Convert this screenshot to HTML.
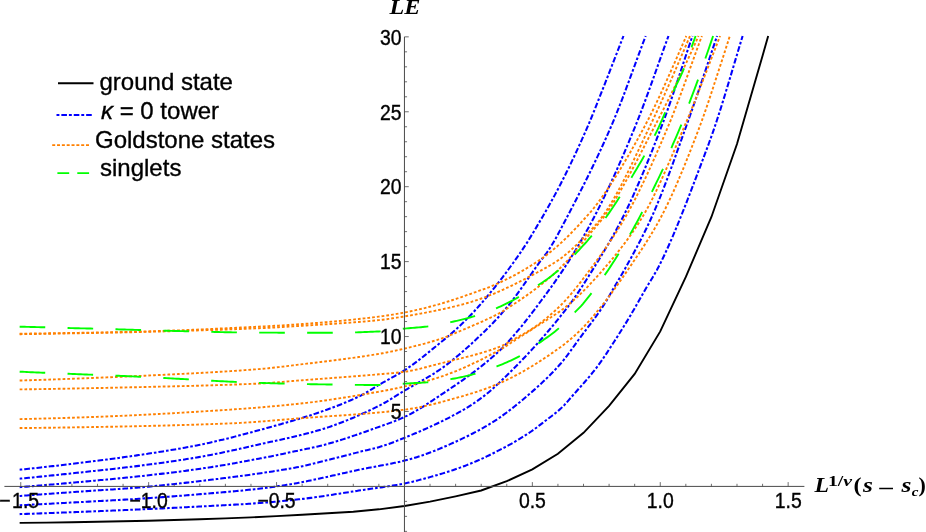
<!DOCTYPE html>
<html><head><meta charset="utf-8"><style>
html,body{margin:0;padding:0;background:#fff;}
svg{display:block;}
</style></head><body>
<svg width="926" height="532" viewBox="0 0 926 532">
<rect width="926" height="532" fill="#fff"/>
<g><path d="M19.65,522.91 L20.75,522.90 L46.33,522.60 L71.91,522.23 L97.49,521.80 L123.07,521.28 L148.65,520.69 L174.23,519.99 L199.81,519.21 L225.39,518.36 L250.97,517.39 L276.55,516.16 L302.13,514.68 L327.71,513.30 L353.29,511.71 L378.87,509.32 L404.45,506.01 L430.03,501.64 L455.61,496.34 L481.19,490.47 L506.77,481.17 L532.35,469.43 L557.93,453.78 L583.51,432.79 L609.09,405.90 L634.67,373.90 L660.25,331.41 L685.83,276.93 L711.41,216.97 L736.99,144.03 L762.57,55.76 L768.19,36.00" fill="none" stroke="#000" stroke-width="1.9"/><path d="M19.65,469.71 L20.75,469.59 L22.75,469.39 L24.75,469.18 L26.75,468.97 L28.75,468.76 L30.75,468.55 L32.75,468.33 L34.75,468.12 L36.75,467.90 L38.75,467.68 L40.75,467.47 L42.75,467.24 L44.75,467.02 L46.75,466.80 L48.75,466.57 L50.75,466.35 L52.75,466.12 L54.75,465.89 L56.75,465.66 L58.75,465.43 L60.75,465.20 L62.75,464.97 L64.75,464.73 L66.75,464.49 L68.75,464.26 L70.75,464.02 L72.75,463.78 L74.75,463.54 L76.75,463.30 L78.75,463.05 L80.75,462.81 L82.75,462.56 L84.75,462.32 L86.75,462.07 L88.75,461.82 L90.75,461.57 L92.75,461.32 L94.75,461.07 L96.75,460.81 L98.75,460.56 L100.75,460.30 L102.75,460.05 L104.75,459.79 L106.75,459.53 L108.75,459.26 L110.75,459.00 L112.75,458.73 L114.75,458.47 L116.75,458.20 L118.75,457.92 L120.75,457.65 L122.75,457.37 L124.75,457.10 L126.75,456.82 L128.75,456.53 L130.75,456.25 L132.75,455.96 L134.75,455.67 L136.75,455.38 L138.75,455.09 L140.75,454.79 L142.75,454.49 L144.75,454.19 L146.75,453.89 L148.75,453.58 L150.75,453.28 L152.75,452.97 L154.75,452.66 L156.75,452.35 L158.75,452.04 L160.75,451.72 L162.75,451.40 L164.75,451.08 L166.75,450.75 L168.75,450.42 L170.75,450.09 L172.75,449.76 L174.75,449.42 L176.75,449.08 L178.75,448.73 L180.75,448.38 L182.75,448.03 L184.75,447.67 L186.75,447.31 L188.75,446.95 L190.75,446.58 L192.75,446.20 L194.75,445.82 L196.75,445.44 L198.75,445.05 L200.75,444.65 L202.75,444.24 L204.75,443.82 L206.75,443.38 L208.75,442.94 L210.75,442.48 L212.75,442.01 L214.75,441.54 L216.75,441.07 L218.75,440.59 L220.75,440.11 L222.75,439.63 L224.75,439.14 L226.75,438.65 L228.75,438.15 L230.75,437.65 L232.75,437.14 L234.75,436.63 L236.75,436.12 L238.75,435.60 L240.75,435.08 L242.75,434.56 L244.75,434.03 L246.75,433.50 L248.75,432.96 L250.75,432.43 L252.75,431.88 L254.75,431.34 L256.75,430.79 L258.75,430.24 L260.75,429.69 L262.75,429.14 L264.75,428.59 L266.75,428.04 L268.75,427.49 L270.75,426.94 L272.75,426.38 L274.75,425.83 L276.75,425.28 L278.75,424.72 L280.75,424.16 L282.75,423.59 L284.75,423.03 L286.75,422.46 L288.75,421.88 L290.75,421.30 L292.75,420.72 L294.75,420.13 L296.75,419.54 L298.75,418.94 L300.75,418.33 L302.75,417.72 L304.75,417.10 L306.75,416.47 L308.75,415.84 L310.75,415.19 L312.75,414.54 L314.75,413.88 L316.75,413.21 L318.75,412.53 L320.75,411.84 L322.75,411.14 L324.75,410.44 L326.75,409.73 L328.75,409.01 L330.75,408.27 L332.75,407.53 L334.75,406.78 L336.75,406.01 L338.75,405.24 L340.75,404.44 L342.75,403.64 L344.75,402.81 L346.75,401.98 L348.75,401.12 L350.75,400.25 L352.75,399.35 L354.75,398.44 L356.75,397.51 L358.75,396.56 L360.75,395.58 L362.75,394.53 L364.75,393.42 L366.75,392.26 L368.75,391.06 L370.75,389.83 L372.75,388.59 L374.75,387.35 L376.75,386.13 L378.75,384.93 L380.75,383.77 L382.75,382.64 L384.75,381.53 L386.75,380.44 L388.75,379.36 L390.75,378.28 L392.75,377.19 L394.75,376.09 L396.75,374.97 L398.75,373.82 L400.75,372.64 L402.75,371.41 L404.75,370.14 L406.75,368.82 L408.75,367.45 L410.75,366.05 L412.75,364.61 L414.75,363.14 L416.75,361.64 L418.75,360.11 L420.75,358.56 L422.75,356.98 L424.75,355.39 L426.75,353.79 L428.75,352.17 L430.75,350.54 L432.75,348.91 L434.75,347.28 L436.75,345.65 L438.75,344.02 L440.75,342.39 L442.75,340.77 L444.75,339.13 L446.75,337.48 L448.75,335.80 L450.75,334.10 L452.75,332.35 L454.75,330.57 L456.75,328.73 L458.75,326.86 L460.75,324.96 L462.75,323.03 L464.75,321.06 L466.75,319.06 L468.75,317.03 L470.75,314.95 L472.75,312.84 L474.75,310.70 L476.75,308.51 L478.75,306.28 L480.75,304.02 L482.75,301.72 L484.75,299.39 L486.75,297.03 L488.75,294.64 L490.75,292.22 L492.75,289.76 L494.75,287.28 L496.75,284.76 L498.75,282.21 L500.75,279.63 L502.75,277.02 L504.75,274.38 L506.75,271.70 L508.75,269.00 L510.75,266.26 L512.75,263.49 L514.75,260.70 L516.75,257.87 L518.75,255.01 L520.75,252.12 L522.75,249.19 L524.75,246.18 L526.75,243.08 L528.75,239.90 L530.75,236.66 L532.75,233.35 L534.75,230.01 L536.75,226.63 L538.75,223.23 L540.75,219.82 L542.75,216.40 L544.75,212.95 L546.75,209.47 L548.75,205.95 L550.75,202.39 L552.75,198.78 L554.75,195.12 L556.75,191.40 L558.75,187.61 L560.75,183.74 L562.75,179.83 L564.75,175.85 L566.75,171.83 L568.75,167.75 L570.75,163.61 L572.75,159.43 L574.75,155.19 L576.75,150.90 L578.75,146.55 L580.75,142.15 L582.75,137.70 L584.75,133.20 L586.75,128.64 L588.75,124.02 L590.75,119.25 L592.75,114.35 L594.75,109.35 L596.75,104.30 L598.75,99.25 L600.75,94.21 L602.75,89.17 L604.75,84.09 L606.75,78.99 L608.75,73.87 L610.75,68.74 L612.75,63.59 L614.75,58.44 L616.75,53.29 L618.75,48.13 L620.75,42.99 L622.75,37.85 L623.47,36.00" fill="none" stroke="#0000ff" stroke-width="2.05" stroke-dasharray="2.6 2.0 5.7 2.0"/><path d="M19.65,478.70 L20.75,478.60 L22.75,478.40 L24.75,478.20 L26.75,478.01 L28.75,477.81 L30.75,477.61 L32.75,477.41 L34.75,477.21 L36.75,477.01 L38.75,476.81 L40.75,476.61 L42.75,476.40 L44.75,476.20 L46.75,475.99 L48.75,475.79 L50.75,475.58 L52.75,475.38 L54.75,475.17 L56.75,474.96 L58.75,474.75 L60.75,474.55 L62.75,474.34 L64.75,474.13 L66.75,473.91 L68.75,473.70 L70.75,473.49 L72.75,473.28 L74.75,473.06 L76.75,472.85 L78.75,472.63 L80.75,472.42 L82.75,472.20 L84.75,471.99 L86.75,471.77 L88.75,471.56 L90.75,471.34 L92.75,471.13 L94.75,470.91 L96.75,470.70 L98.75,470.48 L100.75,470.27 L102.75,470.05 L104.75,469.83 L106.75,469.61 L108.75,469.39 L110.75,469.17 L112.75,468.94 L114.75,468.72 L116.75,468.49 L118.75,468.26 L120.75,468.03 L122.75,467.80 L124.75,467.57 L126.75,467.33 L128.75,467.09 L130.75,466.85 L132.75,466.61 L134.75,466.36 L136.75,466.11 L138.75,465.86 L140.75,465.60 L142.75,465.35 L144.75,465.09 L146.75,464.83 L148.75,464.57 L150.75,464.30 L152.75,464.04 L154.75,463.77 L156.75,463.50 L158.75,463.22 L160.75,462.95 L162.75,462.67 L164.75,462.39 L166.75,462.11 L168.75,461.82 L170.75,461.53 L172.75,461.24 L174.75,460.94 L176.75,460.65 L178.75,460.34 L180.75,460.04 L182.75,459.73 L184.75,459.42 L186.75,459.10 L188.75,458.78 L190.75,458.46 L192.75,458.13 L194.75,457.79 L196.75,457.46 L198.75,457.12 L200.75,456.77 L202.75,456.42 L204.75,456.05 L206.75,455.68 L208.75,455.31 L210.75,454.92 L212.75,454.53 L214.75,454.13 L216.75,453.73 L218.75,453.32 L220.75,452.91 L222.75,452.49 L224.75,452.06 L226.75,451.64 L228.75,451.20 L230.75,450.77 L232.75,450.33 L234.75,449.89 L236.75,449.44 L238.75,449.00 L240.75,448.55 L242.75,448.10 L244.75,447.65 L246.75,447.19 L248.75,446.74 L250.75,446.29 L252.75,445.83 L254.75,445.38 L256.75,444.93 L258.75,444.48 L260.75,444.03 L262.75,443.59 L264.75,443.15 L266.75,442.71 L268.75,442.27 L270.75,441.84 L272.75,441.41 L274.75,440.98 L276.75,440.54 L278.75,440.11 L280.75,439.68 L282.75,439.24 L284.75,438.80 L286.75,438.36 L288.75,437.91 L290.75,437.46 L292.75,437.00 L294.75,436.54 L296.75,436.07 L298.75,435.59 L300.75,435.11 L302.75,434.61 L304.75,434.11 L306.75,433.60 L308.75,433.07 L310.75,432.54 L312.75,431.99 L314.75,431.43 L316.75,430.86 L318.75,430.27 L320.75,429.67 L322.75,429.06 L324.75,428.42 L326.75,427.77 L328.75,427.10 L330.75,426.42 L332.75,425.72 L334.75,425.01 L336.75,424.28 L338.75,423.54 L340.75,422.78 L342.75,422.01 L344.75,421.22 L346.75,420.42 L348.75,419.61 L350.75,418.78 L352.75,417.94 L354.75,417.09 L356.75,416.22 L358.75,415.34 L360.75,414.45 L362.75,413.55 L364.75,412.63 L366.75,411.71 L368.75,410.77 L370.75,409.82 L372.75,408.86 L374.75,407.89 L376.75,406.91 L378.75,405.92 L380.75,404.92 L382.75,403.87 L384.75,402.76 L386.75,401.60 L388.75,400.41 L390.75,399.18 L392.75,397.93 L394.75,396.67 L396.75,395.41 L398.75,394.14 L400.75,392.89 L402.75,391.66 L404.75,390.45 L406.75,389.27 L408.75,388.11 L410.75,386.97 L412.75,385.83 L414.75,384.71 L416.75,383.59 L418.75,382.47 L420.75,381.34 L422.75,380.21 L424.75,379.06 L426.75,377.90 L428.75,376.72 L430.75,375.51 L432.75,374.28 L434.75,373.01 L436.75,371.71 L438.75,370.36 L440.75,368.97 L442.75,367.55 L444.75,366.09 L446.75,364.60 L448.75,363.07 L450.75,361.51 L452.75,359.92 L454.75,358.31 L456.75,356.66 L458.75,354.99 L460.75,353.29 L462.75,351.56 L464.75,349.81 L466.75,348.04 L468.75,346.25 L470.75,344.43 L472.75,342.60 L474.75,340.74 L476.75,338.87 L478.75,336.98 L480.75,335.07 L482.75,333.15 L484.75,331.22 L486.75,329.27 L488.75,327.28 L490.75,325.25 L492.75,323.19 L494.75,321.08 L496.75,318.92 L498.75,316.73 L500.75,314.49 L502.75,312.20 L504.75,309.88 L506.75,307.51 L508.75,305.09 L510.75,302.59 L512.75,300.01 L514.75,297.36 L516.75,294.64 L518.75,291.88 L520.75,289.07 L522.75,286.23 L524.75,283.37 L526.75,280.49 L528.75,277.61 L530.75,274.72 L532.75,271.85 L534.75,269.01 L536.75,266.19 L538.75,263.41 L540.75,260.69 L542.75,258.08 L544.75,255.49 L546.75,252.81 L548.75,249.92 L550.75,246.80 L552.75,243.50 L554.75,240.06 L556.75,236.48 L558.75,232.81 L560.75,229.07 L562.75,225.27 L564.75,221.45 L566.75,217.62 L568.75,213.81 L570.75,209.99 L572.75,206.16 L574.75,202.31 L576.75,198.44 L578.75,194.55 L580.75,190.63 L582.75,186.69 L584.75,182.72 L586.75,178.72 L588.75,174.68 L590.75,170.61 L592.75,166.49 L594.75,162.34 L596.75,158.14 L598.75,153.89 L600.75,149.59 L602.75,145.24 L604.75,140.84 L606.75,136.38 L608.75,131.86 L610.75,127.27 L612.75,122.60 L614.75,117.81 L616.75,112.89 L618.75,107.87 L620.75,102.76 L622.75,97.56 L624.75,92.29 L626.75,86.96 L628.75,81.59 L630.75,76.18 L632.75,70.76 L634.75,65.32 L636.75,59.88 L638.75,54.46 L640.75,49.07 L642.75,43.71 L644.75,38.41 L645.67,36.00" fill="none" stroke="#0000ff" stroke-width="2.05" stroke-dasharray="2.6 2.0 5.7 2.0"/><path d="M19.65,487.18 L20.75,487.10 L22.75,486.93 L24.75,486.77 L26.75,486.61 L28.75,486.44 L30.75,486.28 L32.75,486.11 L34.75,485.95 L36.75,485.78 L38.75,485.61 L40.75,485.44 L42.75,485.28 L44.75,485.11 L46.75,484.94 L48.75,484.76 L50.75,484.59 L52.75,484.42 L54.75,484.25 L56.75,484.07 L58.75,483.90 L60.75,483.72 L62.75,483.55 L64.75,483.37 L66.75,483.19 L68.75,483.01 L70.75,482.83 L72.75,482.66 L74.75,482.48 L76.75,482.29 L78.75,482.11 L80.75,481.93 L82.75,481.75 L84.75,481.57 L86.75,481.39 L88.75,481.20 L90.75,481.02 L92.75,480.84 L94.75,480.65 L96.75,480.47 L98.75,480.28 L100.75,480.10 L102.75,479.91 L104.75,479.73 L106.75,479.54 L108.75,479.35 L110.75,479.16 L112.75,478.97 L114.75,478.77 L116.75,478.58 L118.75,478.39 L120.75,478.19 L122.75,477.99 L124.75,477.79 L126.75,477.59 L128.75,477.38 L130.75,477.18 L132.75,476.97 L134.75,476.76 L136.75,476.55 L138.75,476.34 L140.75,476.12 L142.75,475.90 L144.75,475.68 L146.75,475.46 L148.75,475.24 L150.75,475.01 L152.75,474.79 L154.75,474.56 L156.75,474.33 L158.75,474.10 L160.75,473.87 L162.75,473.63 L164.75,473.40 L166.75,473.16 L168.75,472.92 L170.75,472.67 L172.75,472.43 L174.75,472.18 L176.75,471.93 L178.75,471.67 L180.75,471.42 L182.75,471.16 L184.75,470.90 L186.75,470.63 L188.75,470.36 L190.75,470.09 L192.75,469.82 L194.75,469.54 L196.75,469.26 L198.75,468.98 L200.75,468.69 L202.75,468.40 L204.75,468.10 L206.75,467.80 L208.75,467.50 L210.75,467.19 L212.75,466.87 L214.75,466.55 L216.75,466.23 L218.75,465.90 L220.75,465.57 L222.75,465.23 L224.75,464.90 L226.75,464.55 L228.75,464.21 L230.75,463.86 L232.75,463.51 L234.75,463.16 L236.75,462.80 L238.75,462.44 L240.75,462.08 L242.75,461.71 L244.75,461.35 L246.75,460.98 L248.75,460.61 L250.75,460.24 L252.75,459.86 L254.75,459.49 L256.75,459.11 L258.75,458.74 L260.75,458.36 L262.75,457.97 L264.75,457.58 L266.75,457.19 L268.75,456.79 L270.75,456.38 L272.75,455.97 L274.75,455.56 L276.75,455.15 L278.75,454.73 L280.75,454.30 L282.75,453.88 L284.75,453.45 L286.75,453.03 L288.75,452.60 L290.75,452.17 L292.75,451.74 L294.75,451.32 L296.75,450.89 L298.75,450.46 L300.75,450.04 L302.75,449.63 L304.75,449.22 L306.75,448.81 L308.75,448.40 L310.75,447.99 L312.75,447.57 L314.75,447.13 L316.75,446.68 L318.75,446.21 L320.75,445.71 L322.75,445.20 L324.75,444.67 L326.75,444.13 L328.75,443.58 L330.75,443.01 L332.75,442.43 L334.75,441.84 L336.75,441.24 L338.75,440.62 L340.75,440.00 L342.75,439.37 L344.75,438.73 L346.75,438.08 L348.75,437.42 L350.75,436.75 L352.75,436.08 L354.75,435.40 L356.75,434.72 L358.75,434.03 L360.75,433.33 L362.75,432.63 L364.75,431.93 L366.75,431.22 L368.75,430.51 L370.75,429.80 L372.75,429.09 L374.75,428.38 L376.75,427.66 L378.75,426.95 L380.75,426.23 L382.75,425.52 L384.75,424.81 L386.75,424.10 L388.75,423.38 L390.75,422.64 L392.75,421.90 L394.75,421.13 L396.75,420.34 L398.75,419.53 L400.75,418.68 L402.75,417.80 L404.75,416.88 L406.75,415.92 L408.75,414.91 L410.75,413.85 L412.75,412.76 L414.75,411.63 L416.75,410.46 L418.75,409.26 L420.75,408.04 L422.75,406.79 L424.75,405.52 L426.75,404.23 L428.75,402.93 L430.75,401.61 L432.75,400.29 L434.75,398.96 L436.75,397.63 L438.75,396.30 L440.75,394.97 L442.75,393.64 L444.75,392.31 L446.75,390.98 L448.75,389.64 L450.75,388.29 L452.75,386.94 L454.75,385.58 L456.75,384.21 L458.75,382.84 L460.75,381.45 L462.75,380.04 L464.75,378.63 L466.75,377.20 L468.75,375.76 L470.75,374.29 L472.75,372.82 L474.75,371.32 L476.75,369.80 L478.75,368.26 L480.75,366.70 L482.75,365.11 L484.75,363.50 L486.75,361.87 L488.75,360.20 L490.75,358.51 L492.75,356.79 L494.75,355.04 L496.75,353.26 L498.75,351.45 L500.75,349.60 L502.75,347.65 L504.75,345.60 L506.75,343.46 L508.75,341.25 L510.75,338.98 L512.75,336.66 L514.75,334.32 L516.75,331.95 L518.75,329.59 L520.75,327.18 L522.75,324.73 L524.75,322.24 L526.75,319.70 L528.75,317.13 L530.75,314.53 L532.75,311.91 L534.75,309.26 L536.75,306.60 L538.75,303.93 L540.75,301.25 L542.75,298.57 L544.75,295.87 L546.75,293.16 L548.75,290.42 L550.75,287.66 L552.75,284.87 L554.75,282.05 L556.75,279.19 L558.75,276.29 L560.75,273.34 L562.75,270.35 L564.75,267.31 L566.75,264.21 L568.75,261.08 L570.75,257.90 L572.75,254.68 L574.75,251.41 L576.75,248.10 L578.75,244.74 L580.75,241.33 L582.75,237.87 L584.75,234.35 L586.75,230.78 L588.75,227.15 L590.75,223.46 L592.75,219.71 L594.75,215.90 L596.75,212.03 L598.75,208.09 L600.75,204.08 L602.75,200.01 L604.75,195.88 L606.75,191.69 L608.75,187.44 L610.75,183.13 L612.75,178.77 L614.75,174.36 L616.75,169.89 L618.75,165.37 L620.75,160.81 L622.75,156.19 L624.75,151.53 L626.75,146.83 L628.75,142.08 L630.75,137.29 L632.75,132.46 L634.75,127.59 L636.75,122.66 L638.75,117.62 L640.75,112.46 L642.75,107.21 L644.75,101.87 L646.75,96.45 L648.75,90.97 L650.75,85.43 L652.75,79.86 L654.75,74.26 L656.75,68.63 L658.75,63.01 L660.75,57.39 L662.75,51.78 L664.75,46.21 L666.75,40.68 L668.46,36.00" fill="none" stroke="#0000ff" stroke-width="2.05" stroke-dasharray="2.6 2.0 5.7 2.0"/><path d="M19.65,495.98 L20.75,495.90 L22.75,495.75 L24.75,495.60 L26.75,495.45 L28.75,495.31 L30.75,495.16 L32.75,495.01 L34.75,494.87 L36.75,494.72 L38.75,494.58 L40.75,494.43 L42.75,494.28 L44.75,494.14 L46.75,493.99 L48.75,493.85 L50.75,493.70 L52.75,493.56 L54.75,493.41 L56.75,493.27 L58.75,493.12 L60.75,492.98 L62.75,492.84 L64.75,492.69 L66.75,492.55 L68.75,492.40 L70.75,492.26 L72.75,492.12 L74.75,491.97 L76.75,491.83 L78.75,491.69 L80.75,491.55 L82.75,491.41 L84.75,491.27 L86.75,491.13 L88.75,490.99 L90.75,490.86 L92.75,490.73 L94.75,490.60 L96.75,490.46 L98.75,490.33 L100.75,490.20 L102.75,490.07 L104.75,489.94 L106.75,489.81 L108.75,489.68 L110.75,489.55 L112.75,489.41 L114.75,489.28 L116.75,489.14 L118.75,489.01 L120.75,488.87 L122.75,488.73 L124.75,488.58 L126.75,488.44 L128.75,488.29 L130.75,488.14 L132.75,487.99 L134.75,487.83 L136.75,487.67 L138.75,487.50 L140.75,487.34 L142.75,487.17 L144.75,486.99 L146.75,486.81 L148.75,486.63 L150.75,486.44 L152.75,486.25 L154.75,486.06 L156.75,485.86 L158.75,485.66 L160.75,485.46 L162.75,485.26 L164.75,485.05 L166.75,484.84 L168.75,484.63 L170.75,484.41 L172.75,484.19 L174.75,483.98 L176.75,483.75 L178.75,483.53 L180.75,483.31 L182.75,483.08 L184.75,482.86 L186.75,482.63 L188.75,482.40 L190.75,482.17 L192.75,481.94 L194.75,481.71 L196.75,481.48 L198.75,481.25 L200.75,481.01 L202.75,480.78 L204.75,480.54 L206.75,480.31 L208.75,480.07 L210.75,479.83 L212.75,479.59 L214.75,479.34 L216.75,479.10 L218.75,478.85 L220.75,478.60 L222.75,478.35 L224.75,478.10 L226.75,477.85 L228.75,477.59 L230.75,477.33 L232.75,477.07 L234.75,476.81 L236.75,476.54 L238.75,476.28 L240.75,476.01 L242.75,475.74 L244.75,475.46 L246.75,475.19 L248.75,474.91 L250.75,474.63 L252.75,474.35 L254.75,474.06 L256.75,473.77 L258.75,473.48 L260.75,473.19 L262.75,472.90 L264.75,472.60 L266.75,472.30 L268.75,472.00 L270.75,471.70 L272.75,471.40 L274.75,471.09 L276.75,470.77 L278.75,470.46 L280.75,470.13 L282.75,469.81 L284.75,469.47 L286.75,469.13 L288.75,468.79 L290.75,468.44 L292.75,468.08 L294.75,467.71 L296.75,467.33 L298.75,466.95 L300.75,466.55 L302.75,466.13 L304.75,465.69 L306.75,465.24 L308.75,464.77 L310.75,464.28 L312.75,463.79 L314.75,463.30 L316.75,462.80 L318.75,462.31 L320.75,461.82 L322.75,461.33 L324.75,460.83 L326.75,460.33 L328.75,459.83 L330.75,459.32 L332.75,458.81 L334.75,458.30 L336.75,457.78 L338.75,457.27 L340.75,456.75 L342.75,456.23 L344.75,455.71 L346.75,455.20 L348.75,454.68 L350.75,454.16 L352.75,453.65 L354.75,453.13 L356.75,452.62 L358.75,452.12 L360.75,451.61 L362.75,451.12 L364.75,450.65 L366.75,450.17 L368.75,449.70 L370.75,449.23 L372.75,448.74 L374.75,448.24 L376.75,447.72 L378.75,447.16 L380.75,446.58 L382.75,445.96 L384.75,445.31 L386.75,444.63 L388.75,443.93 L390.75,443.20 L392.75,442.45 L394.75,441.69 L396.75,440.91 L398.75,440.12 L400.75,439.32 L402.75,438.51 L404.75,437.70 L406.75,436.88 L408.75,436.06 L410.75,435.23 L412.75,434.39 L414.75,433.55 L416.75,432.70 L418.75,431.84 L420.75,430.98 L422.75,430.10 L424.75,429.22 L426.75,428.33 L428.75,427.43 L430.75,426.52 L432.75,425.59 L434.75,424.66 L436.75,423.72 L438.75,422.76 L440.75,421.79 L442.75,420.81 L444.75,419.82 L446.75,418.81 L448.75,417.79 L450.75,416.75 L452.75,415.70 L454.75,414.64 L456.75,413.55 L458.75,412.46 L460.75,411.34 L462.75,410.21 L464.75,409.07 L466.75,407.88 L468.75,406.65 L470.75,405.38 L472.75,404.07 L474.75,402.72 L476.75,401.33 L478.75,399.91 L480.75,398.45 L482.75,396.95 L484.75,395.42 L486.75,393.83 L488.75,392.18 L490.75,390.47 L492.75,388.71 L494.75,386.91 L496.75,385.07 L498.75,383.19 L500.75,381.28 L502.75,379.36 L504.75,377.43 L506.75,375.48 L508.75,373.51 L510.75,371.54 L512.75,369.54 L514.75,367.53 L516.75,365.51 L518.75,363.47 L520.75,361.41 L522.75,359.33 L524.75,357.24 L526.75,355.12 L528.75,352.99 L530.75,350.84 L532.75,348.67 L534.75,346.48 L536.75,344.26 L538.75,342.03 L540.75,339.77 L542.75,337.50 L544.75,335.20 L546.75,332.87 L548.75,330.53 L550.75,328.16 L552.75,325.76 L554.75,323.34 L556.75,320.90 L558.75,318.43 L560.75,315.93 L562.75,313.41 L564.75,310.86 L566.75,308.28 L568.75,305.67 L570.75,303.00 L572.75,300.25 L574.75,297.43 L576.75,294.53 L578.75,291.58 L580.75,288.56 L582.75,285.50 L584.75,282.39 L586.75,279.25 L588.75,276.07 L590.75,272.87 L592.75,269.64 L594.75,266.41 L596.75,263.16 L598.75,259.90 L600.75,256.62 L602.75,253.32 L604.75,249.99 L606.75,246.62 L608.75,243.20 L610.75,239.73 L612.75,236.21 L614.75,232.62 L616.75,228.96 L618.75,225.22 L620.75,221.40 L622.75,217.49 L624.75,213.49 L626.75,209.39 L628.75,205.20 L630.75,200.92 L632.75,196.56 L634.75,192.13 L636.75,187.61 L638.75,183.02 L640.75,178.36 L642.75,173.63 L644.75,168.83 L646.75,163.97 L648.75,159.05 L650.75,154.08 L652.75,149.06 L654.75,143.98 L656.75,138.86 L658.75,133.69 L660.75,128.49 L662.75,123.23 L664.75,117.83 L666.75,112.30 L668.75,106.64 L670.75,100.89 L672.75,95.04 L674.75,89.13 L676.75,83.15 L678.75,77.13 L680.75,71.08 L682.75,65.02 L684.75,58.97 L686.75,52.93 L688.75,46.93 L690.75,40.98 L692.44,36.00" fill="none" stroke="#0000ff" stroke-width="2.05" stroke-dasharray="2.6 2.0 5.7 2.0"/><path d="M19.65,505.25 L20.75,505.20 L22.75,505.10 L24.75,505.00 L26.75,504.90 L28.75,504.79 L30.75,504.69 L32.75,504.59 L34.75,504.49 L36.75,504.39 L38.75,504.28 L40.75,504.18 L42.75,504.08 L44.75,503.97 L46.75,503.87 L48.75,503.77 L50.75,503.66 L52.75,503.56 L54.75,503.45 L56.75,503.35 L58.75,503.24 L60.75,503.13 L62.75,503.03 L64.75,502.92 L66.75,502.81 L68.75,502.71 L70.75,502.60 L72.75,502.49 L74.75,502.38 L76.75,502.28 L78.75,502.17 L80.75,502.06 L82.75,501.95 L84.75,501.84 L86.75,501.73 L88.75,501.63 L90.75,501.52 L92.75,501.41 L94.75,501.30 L96.75,501.20 L98.75,501.09 L100.75,500.98 L102.75,500.87 L104.75,500.76 L106.75,500.66 L108.75,500.55 L110.75,500.43 L112.75,500.32 L114.75,500.21 L116.75,500.10 L118.75,499.99 L120.75,499.87 L122.75,499.75 L124.75,499.64 L126.75,499.52 L128.75,499.40 L130.75,499.28 L132.75,499.16 L134.75,499.03 L136.75,498.91 L138.75,498.78 L140.75,498.65 L142.75,498.52 L144.75,498.39 L146.75,498.25 L148.75,498.12 L150.75,497.98 L152.75,497.84 L154.75,497.70 L156.75,497.56 L158.75,497.42 L160.75,497.27 L162.75,497.13 L164.75,496.98 L166.75,496.83 L168.75,496.68 L170.75,496.53 L172.75,496.38 L174.75,496.23 L176.75,496.07 L178.75,495.92 L180.75,495.76 L182.75,495.60 L184.75,495.44 L186.75,495.28 L188.75,495.12 L190.75,494.96 L192.75,494.80 L194.75,494.63 L196.75,494.47 L198.75,494.30 L200.75,494.14 L202.75,493.97 L204.75,493.81 L206.75,493.64 L208.75,493.47 L210.75,493.31 L212.75,493.14 L214.75,492.97 L216.75,492.80 L218.75,492.63 L220.75,492.46 L222.75,492.29 L224.75,492.12 L226.75,491.94 L228.75,491.76 L230.75,491.59 L232.75,491.40 L234.75,491.22 L236.75,491.03 L238.75,490.84 L240.75,490.65 L242.75,490.45 L244.75,490.25 L246.75,490.05 L248.75,489.84 L250.75,489.63 L252.75,489.42 L254.75,489.20 L256.75,488.97 L258.75,488.75 L260.75,488.51 L262.75,488.27 L264.75,488.02 L266.75,487.77 L268.75,487.51 L270.75,487.24 L272.75,486.96 L274.75,486.68 L276.75,486.39 L278.75,486.09 L280.75,485.79 L282.75,485.49 L284.75,485.17 L286.75,484.85 L288.75,484.53 L290.75,484.20 L292.75,483.86 L294.75,483.52 L296.75,483.17 L298.75,482.82 L300.75,482.46 L302.75,482.09 L304.75,481.69 L306.75,481.28 L308.75,480.86 L310.75,480.43 L312.75,479.99 L314.75,479.55 L316.75,479.11 L318.75,478.67 L320.75,478.24 L322.75,477.81 L324.75,477.37 L326.75,476.93 L328.75,476.49 L330.75,476.05 L332.75,475.60 L334.75,475.16 L336.75,474.71 L338.75,474.26 L340.75,473.81 L342.75,473.36 L344.75,472.92 L346.75,472.47 L348.75,472.03 L350.75,471.59 L352.75,471.15 L354.75,470.72 L356.75,470.29 L358.75,469.86 L360.75,469.44 L362.75,469.03 L364.75,468.63 L366.75,468.24 L368.75,467.85 L370.75,467.47 L372.75,467.09 L374.75,466.72 L376.75,466.35 L378.75,465.98 L380.75,465.60 L382.75,465.23 L384.75,464.85 L386.75,464.47 L388.75,464.08 L390.75,463.68 L392.75,463.28 L394.75,462.86 L396.75,462.44 L398.75,462.00 L400.75,461.54 L402.75,461.07 L404.75,460.59 L406.75,460.08 L408.75,459.54 L410.75,458.98 L412.75,458.40 L414.75,457.79 L416.75,457.16 L418.75,456.52 L420.75,455.85 L422.75,455.16 L424.75,454.46 L426.75,453.74 L428.75,453.00 L430.75,452.25 L432.75,451.48 L434.75,450.69 L436.75,449.90 L438.75,449.08 L440.75,448.26 L442.75,447.42 L444.75,446.56 L446.75,445.70 L448.75,444.82 L450.75,443.93 L452.75,443.03 L454.75,442.13 L456.75,441.21 L458.75,440.28 L460.75,439.34 L462.75,438.40 L464.75,437.44 L466.75,436.47 L468.75,435.49 L470.75,434.49 L472.75,433.47 L474.75,432.44 L476.75,431.38 L478.75,430.31 L480.75,429.21 L482.75,428.09 L484.75,426.95 L486.75,425.78 L488.75,424.59 L490.75,423.37 L492.75,422.13 L494.75,420.85 L496.75,419.54 L498.75,418.19 L500.75,416.81 L502.75,415.39 L504.75,413.94 L506.75,412.45 L508.75,410.94 L510.75,409.40 L512.75,407.83 L514.75,406.24 L516.75,404.63 L518.75,403.00 L520.75,401.34 L522.75,399.68 L524.75,397.99 L526.75,396.30 L528.75,394.59 L530.75,392.87 L532.75,391.13 L534.75,389.37 L536.75,387.59 L538.75,385.79 L540.75,383.96 L542.75,382.10 L544.75,380.20 L546.75,378.28 L548.75,376.31 L550.75,374.30 L552.75,372.25 L554.75,370.15 L556.75,368.00 L558.75,365.80 L560.75,363.54 L562.75,361.16 L564.75,358.65 L566.75,356.04 L568.75,353.36 L570.75,350.61 L572.75,347.83 L574.75,345.04 L576.75,342.26 L578.75,339.50 L580.75,336.79 L582.75,334.12 L584.75,331.48 L586.75,328.85 L588.75,326.22 L590.75,323.58 L592.75,320.91 L594.75,318.20 L596.75,315.43 L598.75,312.60 L600.75,309.69 L602.75,306.69 L604.75,303.55 L606.75,300.23 L608.75,296.78 L610.75,293.28 L612.75,289.78 L614.75,286.35 L616.75,282.97 L618.75,279.60 L620.75,276.22 L622.75,272.80 L624.75,269.31 L626.75,265.73 L628.75,262.10 L630.75,258.46 L632.75,254.79 L634.75,251.10 L636.75,247.36 L638.75,243.57 L640.75,239.72 L642.75,235.80 L644.75,231.80 L646.75,227.70 L648.75,223.51 L650.75,219.20 L652.75,214.77 L654.75,210.19 L656.75,205.47 L658.75,200.61 L660.75,195.63 L662.75,190.53 L664.75,185.34 L666.75,180.06 L668.75,174.69 L670.75,169.27 L672.75,163.78 L674.75,158.25 L676.75,152.69 L678.75,147.10 L680.75,141.50 L682.75,135.90 L684.75,130.32 L686.75,124.75 L688.75,119.14 L690.75,113.47 L692.75,107.75 L694.75,101.98 L696.75,96.16 L698.75,90.30 L700.75,84.41 L702.75,78.50 L704.75,72.56 L706.75,66.61 L708.75,60.65 L710.75,54.69 L712.75,48.73 L714.75,42.78 L716.75,36.85 L717.04,36.00" fill="none" stroke="#0000ff" stroke-width="2.05" stroke-dasharray="2.6 2.0 5.7 2.0"/><path d="M19.65,514.14 L20.75,514.10 L22.75,514.03 L24.75,513.96 L26.75,513.89 L28.75,513.82 L30.75,513.75 L32.75,513.67 L34.75,513.60 L36.75,513.53 L38.75,513.46 L40.75,513.39 L42.75,513.31 L44.75,513.24 L46.75,513.17 L48.75,513.09 L50.75,513.02 L52.75,512.94 L54.75,512.87 L56.75,512.79 L58.75,512.72 L60.75,512.64 L62.75,512.57 L64.75,512.49 L66.75,512.41 L68.75,512.34 L70.75,512.26 L72.75,512.18 L74.75,512.11 L76.75,512.03 L78.75,511.95 L80.75,511.87 L82.75,511.79 L84.75,511.71 L86.75,511.63 L88.75,511.55 L90.75,511.47 L92.75,511.39 L94.75,511.31 L96.75,511.23 L98.75,511.15 L100.75,511.07 L102.75,510.99 L104.75,510.91 L106.75,510.83 L108.75,510.74 L110.75,510.66 L112.75,510.58 L114.75,510.49 L116.75,510.41 L118.75,510.32 L120.75,510.24 L122.75,510.15 L124.75,510.07 L126.75,509.98 L128.75,509.90 L130.75,509.81 L132.75,509.72 L134.75,509.63 L136.75,509.54 L138.75,509.46 L140.75,509.37 L142.75,509.28 L144.75,509.19 L146.75,509.10 L148.75,509.00 L150.75,508.91 L152.75,508.82 L154.75,508.73 L156.75,508.64 L158.75,508.54 L160.75,508.45 L162.75,508.36 L164.75,508.26 L166.75,508.17 L168.75,508.07 L170.75,507.97 L172.75,507.88 L174.75,507.78 L176.75,507.68 L178.75,507.58 L180.75,507.49 L182.75,507.39 L184.75,507.29 L186.75,507.19 L188.75,507.08 L190.75,506.98 L192.75,506.88 L194.75,506.78 L196.75,506.67 L198.75,506.57 L200.75,506.46 L202.75,506.36 L204.75,506.25 L206.75,506.15 L208.75,506.04 L210.75,505.94 L212.75,505.83 L214.75,505.73 L216.75,505.62 L218.75,505.52 L220.75,505.41 L222.75,505.30 L224.75,505.19 L226.75,505.08 L228.75,504.97 L230.75,504.86 L232.75,504.75 L234.75,504.63 L236.75,504.52 L238.75,504.40 L240.75,504.28 L242.75,504.16 L244.75,504.03 L246.75,503.91 L248.75,503.78 L250.75,503.65 L252.75,503.51 L254.75,503.37 L256.75,503.23 L258.75,503.09 L260.75,502.94 L262.75,502.79 L264.75,502.64 L266.75,502.48 L268.75,502.31 L270.75,502.14 L272.75,501.97 L274.75,501.79 L276.75,501.61 L278.75,501.42 L280.75,501.23 L282.75,501.03 L284.75,500.84 L286.75,500.63 L288.75,500.43 L290.75,500.22 L292.75,500.00 L294.75,499.79 L296.75,499.57 L298.75,499.34 L300.75,499.11 L302.75,498.88 L304.75,498.64 L306.75,498.39 L308.75,498.13 L310.75,497.87 L312.75,497.60 L314.75,497.33 L316.75,497.04 L318.75,496.76 L320.75,496.47 L322.75,496.18 L324.75,495.88 L326.75,495.58 L328.75,495.27 L330.75,494.96 L332.75,494.65 L334.75,494.34 L336.75,494.03 L338.75,493.71 L340.75,493.40 L342.75,493.08 L344.75,492.77 L346.75,492.45 L348.75,492.14 L350.75,491.82 L352.75,491.51 L354.75,491.20 L356.75,490.89 L358.75,490.59 L360.75,490.29 L362.75,489.99 L364.75,489.70 L366.75,489.41 L368.75,489.12 L370.75,488.84 L372.75,488.55 L374.75,488.27 L376.75,487.99 L378.75,487.70 L380.75,487.41 L382.75,487.12 L384.75,486.82 L386.75,486.52 L388.75,486.22 L390.75,485.90 L392.75,485.58 L394.75,485.25 L396.75,484.92 L398.75,484.57 L400.75,484.21 L402.75,483.84 L404.75,483.45 L406.75,483.04 L408.75,482.61 L410.75,482.14 L412.75,481.66 L414.75,481.16 L416.75,480.65 L418.75,480.13 L420.75,479.60 L422.75,479.07 L424.75,478.53 L426.75,477.99 L428.75,477.44 L430.75,476.88 L432.75,476.31 L434.75,475.74 L436.75,475.16 L438.75,474.57 L440.75,473.97 L442.75,473.37 L444.75,472.75 L446.75,472.12 L448.75,471.48 L450.75,470.83 L452.75,470.17 L454.75,469.49 L456.75,468.80 L458.75,468.10 L460.75,467.39 L462.75,466.66 L464.75,465.92 L466.75,465.16 L468.75,464.37 L470.75,463.56 L472.75,462.73 L474.75,461.88 L476.75,461.02 L478.75,460.13 L480.75,459.23 L482.75,458.31 L484.75,457.37 L486.75,456.42 L488.75,455.46 L490.75,454.48 L492.75,453.48 L494.75,452.48 L496.75,451.46 L498.75,450.44 L500.75,449.40 L502.75,448.36 L504.75,447.30 L506.75,446.24 L508.75,445.16 L510.75,444.05 L512.75,442.92 L514.75,441.77 L516.75,440.59 L518.75,439.40 L520.75,438.18 L522.75,436.93 L524.75,435.67 L526.75,434.38 L528.75,433.07 L530.75,431.74 L532.75,430.36 L534.75,428.93 L536.75,427.45 L538.75,425.93 L540.75,424.39 L542.75,422.83 L544.75,421.28 L546.75,419.76 L548.75,418.25 L550.75,416.75 L552.75,415.22 L554.75,413.66 L556.75,412.05 L558.75,410.36 L560.75,408.59 L562.75,406.69 L564.75,404.60 L566.75,402.39 L568.75,400.09 L570.75,397.78 L572.75,395.49 L574.75,393.24 L576.75,390.99 L578.75,388.75 L580.75,386.50 L582.75,384.24 L584.75,381.96 L586.75,379.65 L588.75,377.30 L590.75,374.91 L592.75,372.46 L594.75,369.96 L596.75,367.38 L598.75,364.72 L600.75,361.95 L602.75,359.07 L604.75,356.10 L606.75,353.07 L608.75,349.99 L610.75,346.89 L612.75,343.78 L614.75,340.69 L616.75,337.58 L618.75,334.44 L620.75,331.28 L622.75,328.09 L624.75,324.87 L626.75,321.61 L628.75,318.32 L630.75,314.98 L632.75,311.58 L634.75,308.10 L636.75,304.57 L638.75,301.01 L640.75,297.45 L642.75,293.91 L644.75,290.42 L646.75,287.05 L648.75,283.75 L650.75,280.48 L652.75,277.18 L654.75,273.78 L656.75,270.24 L658.75,266.49 L660.75,262.53 L662.75,258.44 L664.75,254.23 L666.75,249.91 L668.75,245.48 L670.75,240.94 L672.75,236.31 L674.75,231.59 L676.75,226.79 L678.75,221.91 L680.75,216.96 L682.75,211.95 L684.75,206.88 L686.75,201.76 L688.75,196.59 L690.75,191.39 L692.75,186.15 L694.75,180.89 L696.75,175.62 L698.75,170.33 L700.75,165.03 L702.75,159.74 L704.75,154.45 L706.75,149.15 L708.75,143.75 L710.75,138.23 L712.75,132.56 L714.75,126.74 L716.75,120.75 L718.75,114.60 L720.75,108.33 L722.75,101.93 L724.75,95.44 L726.75,88.86 L728.75,82.23 L730.75,75.55 L732.75,68.84 L734.75,62.13 L736.75,55.43 L738.75,48.75 L740.75,42.12 L742.61,36.00" fill="none" stroke="#0000ff" stroke-width="2.05" stroke-dasharray="2.6 2.0 5.7 2.0"/><path d="M19.65,333.70 L20.75,333.69 L22.75,333.67 L24.75,333.64 L26.75,333.62 L28.75,333.59 L30.75,333.57 L32.75,333.54 L34.75,333.51 L36.75,333.48 L38.75,333.46 L40.75,333.43 L42.75,333.40 L44.75,333.37 L46.75,333.34 L48.75,333.31 L50.75,333.28 L52.75,333.25 L54.75,333.22 L56.75,333.19 L58.75,333.16 L60.75,333.13 L62.75,333.10 L64.75,333.06 L66.75,333.03 L68.75,333.00 L70.75,332.97 L72.75,332.93 L74.75,332.90 L76.75,332.87 L78.75,332.83 L80.75,332.80 L82.75,332.76 L84.75,332.73 L86.75,332.69 L88.75,332.66 L90.75,332.62 L92.75,332.59 L94.75,332.55 L96.75,332.52 L98.75,332.48 L100.75,332.44 L102.75,332.41 L104.75,332.37 L106.75,332.33 L108.75,332.29 L110.75,332.26 L112.75,332.22 L114.75,332.18 L116.75,332.14 L118.75,332.10 L120.75,332.05 L122.75,332.01 L124.75,331.97 L126.75,331.92 L128.75,331.88 L130.75,331.83 L132.75,331.78 L134.75,331.73 L136.75,331.68 L138.75,331.63 L140.75,331.58 L142.75,331.53 L144.75,331.47 L146.75,331.41 L148.75,331.35 L150.75,331.30 L152.75,331.23 L154.75,331.17 L156.75,331.11 L158.75,331.04 L160.75,330.98 L162.75,330.91 L164.75,330.84 L166.75,330.77 L168.75,330.70 L170.75,330.63 L172.75,330.56 L174.75,330.48 L176.75,330.41 L178.75,330.33 L180.75,330.25 L182.75,330.18 L184.75,330.10 L186.75,330.02 L188.75,329.94 L190.75,329.85 L192.75,329.77 L194.75,329.69 L196.75,329.60 L198.75,329.52 L200.75,329.43 L202.75,329.34 L204.75,329.26 L206.75,329.17 L208.75,329.08 L210.75,328.99 L212.75,328.90 L214.75,328.81 L216.75,328.71 L218.75,328.62 L220.75,328.53 L222.75,328.43 L224.75,328.34 L226.75,328.24 L228.75,328.15 L230.75,328.05 L232.75,327.96 L234.75,327.86 L236.75,327.76 L238.75,327.66 L240.75,327.56 L242.75,327.47 L244.75,327.37 L246.75,327.27 L248.75,327.17 L250.75,327.07 L252.75,326.97 L254.75,326.87 L256.75,326.76 L258.75,326.66 L260.75,326.56 L262.75,326.46 L264.75,326.36 L266.75,326.25 L268.75,326.14 L270.75,326.03 L272.75,325.92 L274.75,325.81 L276.75,325.70 L278.75,325.58 L280.75,325.46 L282.75,325.34 L284.75,325.22 L286.75,325.09 L288.75,324.97 L290.75,324.84 L292.75,324.70 L294.75,324.57 L296.75,324.43 L298.75,324.29 L300.75,324.15 L302.75,324.00 L304.75,323.85 L306.75,323.70 L308.75,323.55 L310.75,323.40 L312.75,323.24 L314.75,323.09 L316.75,322.93 L318.75,322.76 L320.75,322.60 L322.75,322.43 L324.75,322.27 L326.75,322.09 L328.75,321.92 L330.75,321.75 L332.75,321.57 L334.75,321.39 L336.75,321.20 L338.75,321.02 L340.75,320.83 L342.75,320.64 L344.75,320.44 L346.75,320.24 L348.75,320.04 L350.75,319.84 L352.75,319.63 L354.75,319.42 L356.75,319.21 L358.75,319.00 L360.75,318.78 L362.75,318.56 L364.75,318.33 L366.75,318.10 L368.75,317.87 L370.75,317.63 L372.75,317.40 L374.75,317.15 L376.75,316.91 L378.75,316.66 L380.75,316.40 L382.75,316.14 L384.75,315.86 L386.75,315.56 L388.75,315.26 L390.75,314.94 L392.75,314.61 L394.75,314.27 L396.75,313.92 L398.75,313.57 L400.75,313.20 L402.75,312.83 L404.75,312.45 L406.75,312.06 L408.75,311.66 L410.75,311.25 L412.75,310.83 L414.75,310.39 L416.75,309.94 L418.75,309.48 L420.75,309.02 L422.75,308.54 L424.75,308.05 L426.75,307.55 L428.75,307.04 L430.75,306.52 L432.75,305.99 L434.75,305.45 L436.75,304.89 L438.75,304.32 L440.75,303.74 L442.75,303.14 L444.75,302.53 L446.75,301.91 L448.75,301.28 L450.75,300.64 L452.75,299.99 L454.75,299.33 L456.75,298.66 L458.75,297.99 L460.75,297.31 L462.75,296.62 L464.75,295.92 L466.75,295.22 L468.75,294.52 L470.75,293.81 L472.75,293.10 L474.75,292.38 L476.75,291.67 L478.75,290.95 L480.75,290.23 L482.75,289.51 L484.75,288.79 L486.75,288.05 L488.75,287.29 L490.75,286.51 L492.75,285.69 L494.75,284.84 L496.75,283.95 L498.75,283.05 L500.75,282.12 L502.75,281.17 L504.75,280.20 L506.75,279.21 L508.75,278.21 L510.75,277.18 L512.75,276.13 L514.75,275.06 L516.75,273.97 L518.75,272.87 L520.75,271.74 L522.75,270.59 L524.75,269.41 L526.75,268.22 L528.75,267.01 L530.75,265.78 L532.75,264.52 L534.75,263.25 L536.75,261.95 L538.75,260.63 L540.75,259.29 L542.75,257.90 L544.75,256.44 L546.75,254.93 L548.75,253.36 L550.75,251.75 L552.75,250.10 L554.75,248.40 L556.75,246.67 L558.75,244.91 L560.75,243.12 L562.75,241.29 L564.75,239.40 L566.75,237.46 L568.75,235.49 L570.75,233.47 L572.75,231.41 L574.75,229.32 L576.75,227.20 L578.75,225.05 L580.75,222.89 L582.75,220.70 L584.75,218.49 L586.75,216.28 L588.75,214.05 L590.75,211.79 L592.75,209.45 L594.75,206.97 L596.75,204.34 L598.75,201.65 L600.75,198.89 L602.75,196.08 L604.75,193.21 L606.75,190.29 L608.75,187.31 L610.75,184.28 L612.75,181.20 L614.75,178.07 L616.75,174.89 L618.75,171.67 L620.75,168.40 L622.75,165.08 L624.75,161.73 L626.75,158.33 L628.75,154.89 L630.75,151.41 L632.75,147.90 L634.75,144.35 L636.75,140.76 L638.75,137.14 L640.75,133.49 L642.75,129.81 L644.75,126.09 L646.75,122.32 L648.75,118.45 L650.75,114.50 L652.75,110.47 L654.75,106.36 L656.75,102.18 L658.75,97.93 L660.75,93.63 L662.75,89.27 L664.75,84.87 L666.75,80.43 L668.75,75.95 L670.75,71.44 L672.75,66.91 L674.75,62.36 L676.75,57.80 L678.75,53.23 L680.75,48.66 L682.75,44.09 L684.75,39.54 L686.31,36.00" fill="none" stroke="#ff8000" stroke-width="1.9" stroke-dasharray="2.75 2.02"/><path d="M19.65,334.21 L20.75,334.19 L22.75,334.16 L24.75,334.13 L26.75,334.10 L28.75,334.07 L30.75,334.04 L32.75,334.01 L34.75,333.98 L36.75,333.95 L38.75,333.92 L40.75,333.89 L42.75,333.86 L44.75,333.83 L46.75,333.79 L48.75,333.76 L50.75,333.73 L52.75,333.69 L54.75,333.66 L56.75,333.63 L58.75,333.59 L60.75,333.56 L62.75,333.53 L64.75,333.49 L66.75,333.46 L68.75,333.42 L70.75,333.39 L72.75,333.35 L74.75,333.32 L76.75,333.28 L78.75,333.24 L80.75,333.21 L82.75,333.17 L84.75,333.13 L86.75,333.10 L88.75,333.06 L90.75,333.02 L92.75,332.99 L94.75,332.95 L96.75,332.91 L98.75,332.87 L100.75,332.84 L102.75,332.80 L104.75,332.76 L106.75,332.72 L108.75,332.68 L110.75,332.64 L112.75,332.60 L114.75,332.56 L116.75,332.52 L118.75,332.48 L120.75,332.44 L122.75,332.39 L124.75,332.35 L126.75,332.31 L128.75,332.26 L130.75,332.22 L132.75,332.17 L134.75,332.13 L136.75,332.08 L138.75,332.03 L140.75,331.98 L142.75,331.93 L144.75,331.88 L146.75,331.83 L148.75,331.78 L150.75,331.73 L152.75,331.68 L154.75,331.63 L156.75,331.58 L158.75,331.53 L160.75,331.48 L162.75,331.43 L164.75,331.37 L166.75,331.32 L168.75,331.27 L170.75,331.22 L172.75,331.16 L174.75,331.11 L176.75,331.05 L178.75,331.00 L180.75,330.94 L182.75,330.89 L184.75,330.83 L186.75,330.77 L188.75,330.71 L190.75,330.65 L192.75,330.60 L194.75,330.54 L196.75,330.48 L198.75,330.42 L200.75,330.35 L202.75,330.29 L204.75,330.23 L206.75,330.17 L208.75,330.10 L210.75,330.04 L212.75,329.97 L214.75,329.91 L216.75,329.84 L218.75,329.77 L220.75,329.71 L222.75,329.64 L224.75,329.57 L226.75,329.50 L228.75,329.43 L230.75,329.35 L232.75,329.28 L234.75,329.21 L236.75,329.13 L238.75,329.06 L240.75,328.98 L242.75,328.90 L244.75,328.83 L246.75,328.75 L248.75,328.67 L250.75,328.59 L252.75,328.50 L254.75,328.42 L256.75,328.34 L258.75,328.25 L260.75,328.17 L262.75,328.08 L264.75,327.98 L266.75,327.89 L268.75,327.78 L270.75,327.68 L272.75,327.57 L274.75,327.46 L276.75,327.34 L278.75,327.23 L280.75,327.11 L282.75,326.99 L284.75,326.87 L286.75,326.74 L288.75,326.62 L290.75,326.49 L292.75,326.36 L294.75,326.24 L296.75,326.11 L298.75,325.98 L300.75,325.85 L302.75,325.73 L304.75,325.60 L306.75,325.47 L308.75,325.35 L310.75,325.23 L312.75,325.10 L314.75,324.98 L316.75,324.85 L318.75,324.73 L320.75,324.61 L322.75,324.48 L324.75,324.35 L326.75,324.23 L328.75,324.10 L330.75,323.97 L332.75,323.84 L334.75,323.71 L336.75,323.58 L338.75,323.44 L340.75,323.30 L342.75,323.17 L344.75,323.02 L346.75,322.88 L348.75,322.73 L350.75,322.59 L352.75,322.43 L354.75,322.28 L356.75,322.12 L358.75,321.96 L360.75,321.79 L362.75,321.63 L364.75,321.45 L366.75,321.28 L368.75,321.10 L370.75,320.91 L372.75,320.72 L374.75,320.53 L376.75,320.33 L378.75,320.13 L380.75,319.92 L382.75,319.69 L384.75,319.45 L386.75,319.19 L388.75,318.91 L390.75,318.62 L392.75,318.31 L394.75,318.00 L396.75,317.68 L398.75,317.35 L400.75,317.02 L402.75,316.69 L404.75,316.36 L406.75,316.02 L408.75,315.68 L410.75,315.34 L412.75,314.99 L414.75,314.64 L416.75,314.29 L418.75,313.93 L420.75,313.56 L422.75,313.19 L424.75,312.81 L426.75,312.43 L428.75,312.04 L430.75,311.65 L432.75,311.25 L434.75,310.85 L436.75,310.43 L438.75,310.01 L440.75,309.59 L442.75,309.16 L444.75,308.72 L446.75,308.27 L448.75,307.81 L450.75,307.35 L452.75,306.88 L454.75,306.40 L456.75,305.91 L458.75,305.41 L460.75,304.89 L462.75,304.36 L464.75,303.81 L466.75,303.24 L468.75,302.65 L470.75,302.04 L472.75,301.42 L474.75,300.78 L476.75,300.12 L478.75,299.44 L480.75,298.73 L482.75,298.01 L484.75,297.27 L486.75,296.51 L488.75,295.73 L490.75,294.93 L492.75,294.11 L494.75,293.27 L496.75,292.42 L498.75,291.55 L500.75,290.67 L502.75,289.77 L504.75,288.85 L506.75,287.92 L508.75,286.98 L510.75,286.03 L512.75,285.06 L514.75,284.08 L516.75,283.09 L518.75,282.09 L520.75,281.08 L522.75,280.07 L524.75,279.04 L526.75,278.01 L528.75,276.96 L530.75,275.92 L532.75,274.86 L534.75,273.80 L536.75,272.74 L538.75,271.67 L540.75,270.60 L542.75,269.52 L544.75,268.43 L546.75,267.32 L548.75,266.18 L550.75,265.01 L552.75,263.81 L554.75,262.55 L556.75,261.25 L558.75,259.88 L560.75,258.46 L562.75,256.95 L564.75,255.37 L566.75,253.72 L568.75,252.00 L570.75,250.23 L572.75,248.40 L574.75,246.53 L576.75,244.60 L578.75,242.64 L580.75,240.65 L582.75,238.62 L584.75,236.58 L586.75,234.51 L588.75,232.43 L590.75,230.33 L592.75,228.18 L594.75,225.98 L596.75,223.69 L598.75,221.29 L600.75,218.75 L602.75,216.07 L604.75,213.23 L606.75,210.24 L608.75,207.12 L610.75,203.88 L612.75,200.52 L614.75,197.05 L616.75,193.47 L618.75,189.80 L620.75,186.04 L622.75,182.21 L624.75,178.30 L626.75,174.32 L628.75,170.29 L630.75,166.22 L632.75,162.10 L634.75,157.94 L636.75,153.77 L638.75,149.57 L640.75,145.36 L642.75,141.16 L644.75,136.95 L646.75,132.76 L648.75,128.59 L650.75,124.44 L652.75,120.26 L654.75,116.02 L656.75,111.74 L658.75,107.41 L660.75,103.04 L662.75,98.63 L664.75,94.18 L666.75,89.69 L668.75,85.18 L670.75,80.64 L672.75,76.07 L674.75,71.47 L676.75,66.86 L678.75,62.23 L680.75,57.59 L682.75,52.93 L684.75,48.27 L686.75,43.60 L688.75,38.92 L690.00,36.00" fill="none" stroke="#ff8000" stroke-width="1.9" stroke-dasharray="2.75 2.02"/><path d="M19.65,380.51 L20.75,380.48 L22.75,380.42 L24.75,380.36 L26.75,380.30 L28.75,380.24 L30.75,380.18 L32.75,380.12 L34.75,380.06 L36.75,379.99 L38.75,379.93 L40.75,379.86 L42.75,379.80 L44.75,379.73 L46.75,379.66 L48.75,379.60 L50.75,379.53 L52.75,379.46 L54.75,379.39 L56.75,379.32 L58.75,379.25 L60.75,379.18 L62.75,379.11 L64.75,379.03 L66.75,378.96 L68.75,378.89 L70.75,378.81 L72.75,378.74 L74.75,378.66 L76.75,378.58 L78.75,378.51 L80.75,378.43 L82.75,378.35 L84.75,378.27 L86.75,378.19 L88.75,378.11 L90.75,378.03 L92.75,377.95 L94.75,377.87 L96.75,377.79 L98.75,377.71 L100.75,377.62 L102.75,377.54 L104.75,377.46 L106.75,377.37 L108.75,377.29 L110.75,377.20 L112.75,377.12 L114.75,377.03 L116.75,376.94 L118.75,376.85 L120.75,376.77 L122.75,376.68 L124.75,376.59 L126.75,376.50 L128.75,376.41 L130.75,376.32 L132.75,376.23 L134.75,376.14 L136.75,376.05 L138.75,375.96 L140.75,375.87 L142.75,375.77 L144.75,375.68 L146.75,375.59 L148.75,375.50 L150.75,375.40 L152.75,375.31 L154.75,375.22 L156.75,375.13 L158.75,375.03 L160.75,374.94 L162.75,374.84 L164.75,374.75 L166.75,374.65 L168.75,374.56 L170.75,374.46 L172.75,374.37 L174.75,374.27 L176.75,374.17 L178.75,374.07 L180.75,373.97 L182.75,373.87 L184.75,373.77 L186.75,373.67 L188.75,373.56 L190.75,373.46 L192.75,373.36 L194.75,373.25 L196.75,373.14 L198.75,373.03 L200.75,372.93 L202.75,372.82 L204.75,372.70 L206.75,372.59 L208.75,372.48 L210.75,372.36 L212.75,372.24 L214.75,372.13 L216.75,372.01 L218.75,371.89 L220.75,371.76 L222.75,371.64 L224.75,371.51 L226.75,371.39 L228.75,371.26 L230.75,371.13 L232.75,371.00 L234.75,370.86 L236.75,370.73 L238.75,370.59 L240.75,370.45 L242.75,370.31 L244.75,370.16 L246.75,370.02 L248.75,369.87 L250.75,369.72 L252.75,369.57 L254.75,369.41 L256.75,369.26 L258.75,369.10 L260.75,368.94 L262.75,368.77 L264.75,368.59 L266.75,368.40 L268.75,368.20 L270.75,367.99 L272.75,367.78 L274.75,367.56 L276.75,367.33 L278.75,367.10 L280.75,366.87 L282.75,366.63 L284.75,366.38 L286.75,366.14 L288.75,365.89 L290.75,365.64 L292.75,365.39 L294.75,365.15 L296.75,364.90 L298.75,364.65 L300.75,364.41 L302.75,364.17 L304.75,363.92 L306.75,363.68 L308.75,363.44 L310.75,363.20 L312.75,362.96 L314.75,362.72 L316.75,362.48 L318.75,362.24 L320.75,361.99 L322.75,361.75 L324.75,361.50 L326.75,361.26 L328.75,361.01 L330.75,360.76 L332.75,360.51 L334.75,360.26 L336.75,360.01 L338.75,359.75 L340.75,359.49 L342.75,359.23 L344.75,358.96 L346.75,358.70 L348.75,358.43 L350.75,358.15 L352.75,357.88 L354.75,357.60 L356.75,357.32 L358.75,357.03 L360.75,356.74 L362.75,356.44 L364.75,356.14 L366.75,355.84 L368.75,355.53 L370.75,355.22 L372.75,354.90 L374.75,354.57 L376.75,354.25 L378.75,353.91 L380.75,353.57 L382.75,353.22 L384.75,352.85 L386.75,352.46 L388.75,352.07 L390.75,351.66 L392.75,351.24 L394.75,350.81 L396.75,350.37 L398.75,349.92 L400.75,349.47 L402.75,349.01 L404.75,348.54 L406.75,348.07 L408.75,347.60 L410.75,347.12 L412.75,346.63 L414.75,346.14 L416.75,345.64 L418.75,345.13 L420.75,344.61 L422.75,344.08 L424.75,343.55 L426.75,342.99 L428.75,342.43 L430.75,341.86 L432.75,341.27 L434.75,340.66 L436.75,340.04 L438.75,339.41 L440.75,338.75 L442.75,338.06 L444.75,337.33 L446.75,336.58 L448.75,335.79 L450.75,334.98 L452.75,334.15 L454.75,333.31 L456.75,332.46 L458.75,331.60 L460.75,330.75 L462.75,329.89 L464.75,329.05 L466.75,328.20 L468.75,327.35 L470.75,326.50 L472.75,325.65 L474.75,324.79 L476.75,323.93 L478.75,323.05 L480.75,322.17 L482.75,321.27 L484.75,320.36 L486.75,319.44 L488.75,318.49 L490.75,317.53 L492.75,316.55 L494.75,315.55 L496.75,314.52 L498.75,313.47 L500.75,312.39 L502.75,311.24 L504.75,310.02 L506.75,308.76 L508.75,307.47 L510.75,306.16 L512.75,304.85 L514.75,303.54 L516.75,302.21 L518.75,300.86 L520.75,299.51 L522.75,298.14 L524.75,296.75 L526.75,295.35 L528.75,293.93 L530.75,292.48 L532.75,291.02 L534.75,289.53 L536.75,288.02 L538.75,286.48 L540.75,284.91 L542.75,283.32 L544.75,281.71 L546.75,280.06 L548.75,278.39 L550.75,276.68 L552.75,274.94 L554.75,273.16 L556.75,271.33 L558.75,269.45 L560.75,267.53 L562.75,265.55 L564.75,263.49 L566.75,261.34 L568.75,259.12 L570.75,256.83 L572.75,254.49 L574.75,252.11 L576.75,249.69 L578.75,247.25 L580.75,244.80 L582.75,242.34 L584.75,239.89 L586.75,237.46 L588.75,235.06 L590.75,232.71 L592.75,230.40 L594.75,228.10 L596.75,225.79 L598.75,223.41 L600.75,220.96 L602.75,218.38 L604.75,215.65 L606.75,212.79 L608.75,209.84 L610.75,206.79 L612.75,203.65 L614.75,200.42 L616.75,197.12 L618.75,193.75 L620.75,190.30 L622.75,186.79 L624.75,183.23 L626.75,179.61 L628.75,175.94 L630.75,172.23 L632.75,168.48 L634.75,164.69 L636.75,160.88 L638.75,157.04 L640.75,153.18 L642.75,149.31 L644.75,145.44 L646.75,141.56 L648.75,137.68 L650.75,133.80 L652.75,129.94 L654.75,126.10 L656.75,122.25 L658.75,118.39 L660.75,114.52 L662.75,110.62 L664.75,106.70 L666.75,102.76 L668.75,98.80 L670.75,94.81 L672.75,90.79 L674.75,86.74 L676.75,82.67 L678.75,78.56 L680.75,74.42 L682.75,70.25 L684.75,66.04 L686.75,61.79 L688.75,57.51 L690.75,53.18 L692.75,48.82 L694.75,44.41 L696.75,39.96 L698.51,36.00" fill="none" stroke="#ff8000" stroke-width="1.9" stroke-dasharray="2.75 2.02"/><path d="M19.65,389.40 L20.75,389.39 L22.75,389.36 L24.75,389.33 L26.75,389.30 L28.75,389.28 L30.75,389.25 L32.75,389.22 L34.75,389.19 L36.75,389.15 L38.75,389.12 L40.75,389.09 L42.75,389.06 L44.75,389.03 L46.75,388.99 L48.75,388.96 L50.75,388.93 L52.75,388.89 L54.75,388.86 L56.75,388.82 L58.75,388.79 L60.75,388.75 L62.75,388.72 L64.75,388.68 L66.75,388.65 L68.75,388.61 L70.75,388.57 L72.75,388.53 L74.75,388.50 L76.75,388.46 L78.75,388.42 L80.75,388.38 L82.75,388.34 L84.75,388.30 L86.75,388.26 L88.75,388.22 L90.75,388.18 L92.75,388.14 L94.75,388.10 L96.75,388.06 L98.75,388.02 L100.75,387.97 L102.75,387.93 L104.75,387.89 L106.75,387.85 L108.75,387.80 L110.75,387.76 L112.75,387.72 L114.75,387.67 L116.75,387.63 L118.75,387.58 L120.75,387.54 L122.75,387.50 L124.75,387.45 L126.75,387.41 L128.75,387.36 L130.75,387.31 L132.75,387.27 L134.75,387.22 L136.75,387.18 L138.75,387.13 L140.75,387.08 L142.75,387.04 L144.75,386.99 L146.75,386.94 L148.75,386.90 L150.75,386.85 L152.75,386.81 L154.75,386.76 L156.75,386.71 L158.75,386.67 L160.75,386.62 L162.75,386.57 L164.75,386.53 L166.75,386.48 L168.75,386.43 L170.75,386.39 L172.75,386.34 L174.75,386.29 L176.75,386.24 L178.75,386.20 L180.75,386.15 L182.75,386.10 L184.75,386.05 L186.75,386.00 L188.75,385.95 L190.75,385.90 L192.75,385.84 L194.75,385.79 L196.75,385.74 L198.75,385.68 L200.75,385.63 L202.75,385.57 L204.75,385.52 L206.75,385.46 L208.75,385.40 L210.75,385.34 L212.75,385.28 L214.75,385.22 L216.75,385.16 L218.75,385.10 L220.75,385.03 L222.75,384.97 L224.75,384.90 L226.75,384.83 L228.75,384.76 L230.75,384.69 L232.75,384.62 L234.75,384.55 L236.75,384.47 L238.75,384.40 L240.75,384.32 L242.75,384.24 L244.75,384.16 L246.75,384.08 L248.75,384.00 L250.75,383.91 L252.75,383.83 L254.75,383.74 L256.75,383.65 L258.75,383.56 L260.75,383.46 L262.75,383.36 L264.75,383.25 L266.75,383.12 L268.75,382.99 L270.75,382.84 L272.75,382.69 L274.75,382.54 L276.75,382.38 L278.75,382.21 L280.75,382.04 L282.75,381.87 L284.75,381.69 L286.75,381.52 L288.75,381.34 L290.75,381.17 L292.75,381.00 L294.75,380.83 L296.75,380.66 L298.75,380.50 L300.75,380.34 L302.75,380.19 L304.75,380.03 L306.75,379.88 L308.75,379.73 L310.75,379.58 L312.75,379.43 L314.75,379.28 L316.75,379.13 L318.75,378.98 L320.75,378.84 L322.75,378.69 L324.75,378.54 L326.75,378.39 L328.75,378.24 L330.75,378.10 L332.75,377.95 L334.75,377.80 L336.75,377.65 L338.75,377.50 L340.75,377.35 L342.75,377.20 L344.75,377.05 L346.75,376.90 L348.75,376.75 L350.75,376.59 L352.75,376.44 L354.75,376.29 L356.75,376.13 L358.75,375.97 L360.75,375.81 L362.75,375.65 L364.75,375.49 L366.75,375.33 L368.75,375.16 L370.75,375.00 L372.75,374.83 L374.75,374.66 L376.75,374.48 L378.75,374.31 L380.75,374.13 L382.75,373.96 L384.75,373.79 L386.75,373.62 L388.75,373.45 L390.75,373.28 L392.75,373.10 L394.75,372.91 L396.75,372.71 L398.75,372.50 L400.75,372.27 L402.75,372.03 L404.75,371.77 L406.75,371.47 L408.75,371.14 L410.75,370.78 L412.75,370.38 L414.75,369.96 L416.75,369.51 L418.75,369.04 L420.75,368.55 L422.75,368.05 L424.75,367.53 L426.75,367.01 L428.75,366.48 L430.75,365.94 L432.75,365.40 L434.75,364.87 L436.75,364.34 L438.75,363.82 L440.75,363.31 L442.75,362.81 L444.75,362.31 L446.75,361.82 L448.75,361.34 L450.75,360.85 L452.75,360.37 L454.75,359.89 L456.75,359.40 L458.75,358.92 L460.75,358.43 L462.75,357.93 L464.75,357.44 L466.75,356.93 L468.75,356.42 L470.75,355.90 L472.75,355.37 L474.75,354.83 L476.75,354.27 L478.75,353.71 L480.75,353.13 L482.75,352.53 L484.75,351.92 L486.75,351.29 L488.75,350.64 L490.75,349.98 L492.75,349.29 L494.75,348.58 L496.75,347.84 L498.75,347.09 L500.75,346.30 L502.75,345.40 L504.75,344.40 L506.75,343.32 L508.75,342.19 L510.75,341.04 L512.75,339.88 L514.75,338.74 L516.75,337.63 L518.75,336.54 L520.75,335.44 L522.75,334.34 L524.75,333.22 L526.75,332.07 L528.75,330.88 L530.75,329.65 L532.75,328.37 L534.75,327.02 L536.75,325.62 L538.75,324.18 L540.75,322.69 L542.75,321.16 L544.75,319.58 L546.75,317.95 L548.75,316.28 L550.75,314.56 L552.75,312.80 L554.75,310.98 L556.75,309.12 L558.75,307.22 L560.75,305.26 L562.75,303.22 L564.75,301.11 L566.75,298.91 L568.75,296.65 L570.75,294.32 L572.75,291.93 L574.75,289.49 L576.75,287.00 L578.75,284.46 L580.75,281.89 L582.75,279.28 L584.75,276.65 L586.75,273.99 L588.75,271.31 L590.75,268.63 L592.75,265.93 L594.75,263.23 L596.75,260.51 L598.75,257.76 L600.75,254.99 L602.75,252.19 L604.75,249.35 L606.75,246.47 L608.75,243.55 L610.75,240.59 L612.75,237.57 L614.75,234.50 L616.75,231.37 L618.75,228.17 L620.75,224.91 L622.75,221.58 L624.75,218.17 L626.75,214.68 L628.75,211.10 L630.75,207.43 L632.75,203.68 L634.75,199.84 L636.75,195.92 L638.75,191.92 L640.75,187.85 L642.75,183.70 L644.75,179.49 L646.75,175.22 L648.75,170.89 L650.75,166.49 L652.75,162.05 L654.75,157.55 L656.75,153.01 L658.75,148.42 L660.75,143.79 L662.75,139.12 L664.75,134.42 L666.75,129.69 L668.75,124.92 L670.75,120.06 L672.75,115.07 L674.75,109.97 L676.75,104.77 L678.75,99.48 L680.75,94.12 L682.75,88.69 L684.75,83.21 L686.75,77.70 L688.75,72.15 L690.75,66.59 L692.75,61.03 L694.75,55.48 L696.75,49.95 L698.75,44.45 L700.75,39.00 L701.86,36.00" fill="none" stroke="#ff8000" stroke-width="1.9" stroke-dasharray="2.75 2.02"/><path d="M19.65,419.11 L20.75,419.08 L22.75,419.04 L24.75,419.00 L26.75,418.96 L28.75,418.91 L30.75,418.87 L32.75,418.82 L34.75,418.77 L36.75,418.72 L38.75,418.67 L40.75,418.62 L42.75,418.57 L44.75,418.52 L46.75,418.47 L48.75,418.41 L50.75,418.36 L52.75,418.30 L54.75,418.24 L56.75,418.19 L58.75,418.13 L60.75,418.07 L62.75,418.01 L64.75,417.95 L66.75,417.88 L68.75,417.82 L70.75,417.76 L72.75,417.69 L74.75,417.63 L76.75,417.56 L78.75,417.49 L80.75,417.42 L82.75,417.36 L84.75,417.29 L86.75,417.22 L88.75,417.14 L90.75,417.07 L92.75,417.00 L94.75,416.93 L96.75,416.85 L98.75,416.77 L100.75,416.70 L102.75,416.62 L104.75,416.54 L106.75,416.46 L108.75,416.38 L110.75,416.29 L112.75,416.21 L114.75,416.12 L116.75,416.04 L118.75,415.95 L120.75,415.86 L122.75,415.77 L124.75,415.68 L126.75,415.59 L128.75,415.50 L130.75,415.40 L132.75,415.31 L134.75,415.21 L136.75,415.12 L138.75,415.02 L140.75,414.92 L142.75,414.82 L144.75,414.72 L146.75,414.62 L148.75,414.52 L150.75,414.41 L152.75,414.31 L154.75,414.20 L156.75,414.10 L158.75,413.99 L160.75,413.88 L162.75,413.77 L164.75,413.66 L166.75,413.55 L168.75,413.44 L170.75,413.33 L172.75,413.22 L174.75,413.10 L176.75,412.99 L178.75,412.87 L180.75,412.76 L182.75,412.64 L184.75,412.52 L186.75,412.40 L188.75,412.28 L190.75,412.16 L192.75,412.04 L194.75,411.92 L196.75,411.79 L198.75,411.67 L200.75,411.54 L202.75,411.42 L204.75,411.29 L206.75,411.16 L208.75,411.04 L210.75,410.91 L212.75,410.78 L214.75,410.65 L216.75,410.52 L218.75,410.39 L220.75,410.26 L222.75,410.12 L224.75,409.99 L226.75,409.86 L228.75,409.72 L230.75,409.58 L232.75,409.45 L234.75,409.31 L236.75,409.17 L238.75,409.03 L240.75,408.89 L242.75,408.74 L244.75,408.59 L246.75,408.45 L248.75,408.29 L250.75,408.14 L252.75,407.99 L254.75,407.83 L256.75,407.67 L258.75,407.51 L260.75,407.34 L262.75,407.18 L264.75,407.01 L266.75,406.84 L268.75,406.66 L270.75,406.49 L272.75,406.31 L274.75,406.13 L276.75,405.94 L278.75,405.76 L280.75,405.57 L282.75,405.38 L284.75,405.18 L286.75,404.98 L288.75,404.78 L290.75,404.58 L292.75,404.37 L294.75,404.16 L296.75,403.95 L298.75,403.74 L300.75,403.52 L302.75,403.29 L304.75,403.06 L306.75,402.83 L308.75,402.59 L310.75,402.34 L312.75,402.09 L314.75,401.84 L316.75,401.58 L318.75,401.31 L320.75,401.05 L322.75,400.77 L324.75,400.49 L326.75,400.21 L328.75,399.92 L330.75,399.63 L332.75,399.34 L334.75,399.04 L336.75,398.74 L338.75,398.43 L340.75,398.12 L342.75,397.81 L344.75,397.49 L346.75,397.18 L348.75,396.85 L350.75,396.53 L352.75,396.20 L354.75,395.87 L356.75,395.53 L358.75,395.20 L360.75,394.86 L362.75,394.52 L364.75,394.18 L366.75,393.83 L368.75,393.48 L370.75,393.14 L372.75,392.78 L374.75,392.43 L376.75,392.08 L378.75,391.72 L380.75,391.37 L382.75,391.00 L384.75,390.63 L386.75,390.25 L388.75,389.86 L390.75,389.46 L392.75,389.05 L394.75,388.64 L396.75,388.22 L398.75,387.79 L400.75,387.35 L402.75,386.90 L404.75,386.44 L406.75,385.98 L408.75,385.52 L410.75,385.04 L412.75,384.57 L414.75,384.08 L416.75,383.59 L418.75,383.09 L420.75,382.58 L422.75,382.06 L424.75,381.53 L426.75,380.99 L428.75,380.43 L430.75,379.86 L432.75,379.27 L434.75,378.67 L436.75,378.05 L438.75,377.41 L440.75,376.75 L442.75,376.07 L444.75,375.38 L446.75,374.66 L448.75,373.92 L450.75,373.16 L452.75,372.39 L454.75,371.59 L456.75,370.78 L458.75,369.95 L460.75,369.11 L462.75,368.24 L464.75,367.36 L466.75,366.47 L468.75,365.56 L470.75,364.64 L472.75,363.70 L474.75,362.74 L476.75,361.78 L478.75,360.80 L480.75,359.81 L482.75,358.80 L484.75,357.79 L486.75,356.76 L488.75,355.72 L490.75,354.67 L492.75,353.61 L494.75,352.55 L496.75,351.47 L498.75,350.38 L500.75,349.28 L502.75,348.12 L504.75,346.89 L506.75,345.61 L508.75,344.30 L510.75,342.97 L512.75,341.65 L514.75,340.36 L516.75,339.09 L518.75,337.82 L520.75,336.54 L522.75,335.27 L524.75,334.00 L526.75,332.72 L528.75,331.44 L530.75,330.15 L532.75,328.85 L534.75,327.55 L536.75,326.26 L538.75,324.99 L540.75,323.73 L542.75,322.48 L544.75,321.23 L546.75,319.98 L548.75,318.72 L550.75,317.44 L552.75,316.14 L554.75,314.83 L556.75,313.48 L558.75,312.10 L560.75,310.67 L562.75,309.21 L564.75,307.69 L566.75,306.12 L568.75,304.49 L570.75,302.81 L572.75,301.08 L574.75,299.29 L576.75,297.46 L578.75,295.58 L580.75,293.65 L582.75,291.69 L584.75,289.68 L586.75,287.63 L588.75,285.55 L590.75,283.43 L592.75,281.28 L594.75,279.10 L596.75,276.89 L598.75,274.66 L600.75,272.39 L602.75,270.11 L604.75,267.80 L606.75,265.48 L608.75,263.13 L610.75,260.76 L612.75,258.36 L614.75,255.93 L616.75,253.46 L618.75,250.95 L620.75,248.40 L622.75,245.80 L624.75,243.15 L626.75,240.45 L628.75,237.69 L630.75,234.87 L632.75,231.98 L634.75,229.02 L636.75,225.99 L638.75,222.88 L640.75,219.69 L642.75,216.42 L644.75,213.03 L646.75,209.49 L648.75,205.81 L650.75,202.00 L652.75,198.07 L654.75,194.02 L656.75,189.87 L658.75,185.62 L660.75,181.28 L662.75,176.86 L664.75,172.38 L666.75,167.83 L668.75,163.23 L670.75,158.59 L672.75,153.92 L674.75,149.22 L676.75,144.50 L678.75,139.77 L680.75,135.05 L682.75,130.34 L684.75,125.65 L686.75,120.92 L688.75,116.12 L690.75,111.25 L692.75,106.32 L694.75,101.34 L696.75,96.30 L698.75,91.22 L700.75,86.10 L702.75,80.96 L704.75,75.78 L706.75,70.59 L708.75,65.39 L710.75,60.18 L712.75,54.97 L714.75,49.77 L716.75,44.58 L718.75,39.41 L720.07,36.00" fill="none" stroke="#ff8000" stroke-width="1.9" stroke-dasharray="2.75 2.02"/><path d="M19.65,428.05 L20.75,428.04 L22.75,428.02 L24.75,428.00 L26.75,427.98 L28.75,427.96 L30.75,427.94 L32.75,427.92 L34.75,427.90 L36.75,427.88 L38.75,427.85 L40.75,427.83 L42.75,427.81 L44.75,427.78 L46.75,427.76 L48.75,427.73 L50.75,427.70 L52.75,427.68 L54.75,427.65 L56.75,427.62 L58.75,427.59 L60.75,427.57 L62.75,427.54 L64.75,427.51 L66.75,427.48 L68.75,427.45 L70.75,427.42 L72.75,427.39 L74.75,427.35 L76.75,427.32 L78.75,427.29 L80.75,427.26 L82.75,427.22 L84.75,427.19 L86.75,427.16 L88.75,427.12 L90.75,427.09 L92.75,427.05 L94.75,427.02 L96.75,426.98 L98.75,426.95 L100.75,426.91 L102.75,426.87 L104.75,426.84 L106.75,426.80 L108.75,426.76 L110.75,426.73 L112.75,426.69 L114.75,426.65 L116.75,426.61 L118.75,426.57 L120.75,426.53 L122.75,426.49 L124.75,426.45 L126.75,426.41 L128.75,426.37 L130.75,426.33 L132.75,426.28 L134.75,426.24 L136.75,426.20 L138.75,426.16 L140.75,426.11 L142.75,426.07 L144.75,426.02 L146.75,425.97 L148.75,425.93 L150.75,425.88 L152.75,425.83 L154.75,425.78 L156.75,425.74 L158.75,425.69 L160.75,425.63 L162.75,425.58 L164.75,425.53 L166.75,425.48 L168.75,425.43 L170.75,425.37 L172.75,425.32 L174.75,425.26 L176.75,425.21 L178.75,425.15 L180.75,425.09 L182.75,425.03 L184.75,424.97 L186.75,424.91 L188.75,424.85 L190.75,424.79 L192.75,424.73 L194.75,424.66 L196.75,424.60 L198.75,424.53 L200.75,424.47 L202.75,424.40 L204.75,424.33 L206.75,424.26 L208.75,424.19 L210.75,424.12 L212.75,424.05 L214.75,423.98 L216.75,423.90 L218.75,423.83 L220.75,423.75 L222.75,423.67 L224.75,423.59 L226.75,423.51 L228.75,423.43 L230.75,423.35 L232.75,423.27 L234.75,423.18 L236.75,423.08 L238.75,422.98 L240.75,422.87 L242.75,422.76 L244.75,422.64 L246.75,422.51 L248.75,422.38 L250.75,422.25 L252.75,422.11 L254.75,421.97 L256.75,421.82 L258.75,421.67 L260.75,421.52 L262.75,421.36 L264.75,421.20 L266.75,421.04 L268.75,420.88 L270.75,420.72 L272.75,420.55 L274.75,420.38 L276.75,420.22 L278.75,420.05 L280.75,419.88 L282.75,419.71 L284.75,419.54 L286.75,419.37 L288.75,419.21 L290.75,419.04 L292.75,418.88 L294.75,418.72 L296.75,418.55 L298.75,418.40 L300.75,418.24 L302.75,418.09 L304.75,417.94 L306.75,417.79 L308.75,417.65 L310.75,417.50 L312.75,417.36 L314.75,417.22 L316.75,417.08 L318.75,416.94 L320.75,416.81 L322.75,416.67 L324.75,416.54 L326.75,416.40 L328.75,416.27 L330.75,416.13 L332.75,416.00 L334.75,415.87 L336.75,415.73 L338.75,415.60 L340.75,415.46 L342.75,415.32 L344.75,415.19 L346.75,415.05 L348.75,414.91 L350.75,414.76 L352.75,414.62 L354.75,414.47 L356.75,414.33 L358.75,414.18 L360.75,414.02 L362.75,413.87 L364.75,413.71 L366.75,413.55 L368.75,413.38 L370.75,413.21 L372.75,413.04 L374.75,412.87 L376.75,412.69 L378.75,412.50 L380.75,412.32 L382.75,412.12 L384.75,411.93 L386.75,411.73 L388.75,411.52 L390.75,411.31 L392.75,411.09 L394.75,410.87 L396.75,410.64 L398.75,410.41 L400.75,410.17 L402.75,409.92 L404.75,409.67 L406.75,409.40 L408.75,409.11 L410.75,408.80 L412.75,408.47 L414.75,408.12 L416.75,407.75 L418.75,407.37 L420.75,406.97 L422.75,406.55 L424.75,406.12 L426.75,405.67 L428.75,405.21 L430.75,404.74 L432.75,404.25 L434.75,403.75 L436.75,403.25 L438.75,402.73 L440.75,402.21 L442.75,401.67 L444.75,401.13 L446.75,400.59 L448.75,400.03 L450.75,399.48 L452.75,398.92 L454.75,398.35 L456.75,397.78 L458.75,397.21 L460.75,396.64 L462.75,396.07 L464.75,395.50 L466.75,394.91 L468.75,394.31 L470.75,393.70 L472.75,393.08 L474.75,392.44 L476.75,391.79 L478.75,391.12 L480.75,390.44 L482.75,389.74 L484.75,389.03 L486.75,388.30 L488.75,387.55 L490.75,386.79 L492.75,386.00 L494.75,385.20 L496.75,384.38 L498.75,383.54 L500.75,382.67 L502.75,381.79 L504.75,380.88 L506.75,379.94 L508.75,378.98 L510.75,377.99 L512.75,376.98 L514.75,375.95 L516.75,374.90 L518.75,373.82 L520.75,372.73 L522.75,371.61 L524.75,370.47 L526.75,369.31 L528.75,368.13 L530.75,366.94 L532.75,365.72 L534.75,364.48 L536.75,363.23 L538.75,361.96 L540.75,360.67 L542.75,359.37 L544.75,358.05 L546.75,356.71 L548.75,355.36 L550.75,354.00 L552.75,352.62 L554.75,351.22 L556.75,349.81 L558.75,348.39 L560.75,346.96 L562.75,345.48 L564.75,343.95 L566.75,342.36 L568.75,340.73 L570.75,339.04 L572.75,337.30 L574.75,335.52 L576.75,333.68 L578.75,331.80 L580.75,329.87 L582.75,327.86 L584.75,325.77 L586.75,323.61 L588.75,321.38 L590.75,319.10 L592.75,316.77 L594.75,314.39 L596.75,311.97 L598.75,309.53 L600.75,307.06 L602.75,304.56 L604.75,302.02 L606.75,299.44 L608.75,296.81 L610.75,294.14 L612.75,291.43 L614.75,288.68 L616.75,285.90 L618.75,283.08 L620.75,280.24 L622.75,277.36 L624.75,274.46 L626.75,271.54 L628.75,268.59 L630.75,265.63 L632.75,262.66 L634.75,259.70 L636.75,256.73 L638.75,253.74 L640.75,250.74 L642.75,247.70 L644.75,244.62 L646.75,241.50 L648.75,238.32 L650.75,235.07 L652.75,231.76 L654.75,228.36 L656.75,224.87 L658.75,221.29 L660.75,217.60 L662.75,213.80 L664.75,209.87 L666.75,205.83 L668.75,201.67 L670.75,197.40 L672.75,193.03 L674.75,188.56 L676.75,184.00 L678.75,179.35 L680.75,174.61 L682.75,169.80 L684.75,164.91 L686.75,159.95 L688.75,154.93 L690.75,149.85 L692.75,144.72 L694.75,139.54 L696.75,134.31 L698.75,129.04 L700.75,123.73 L702.75,118.24 L704.75,112.57 L706.75,106.76 L708.75,100.83 L710.75,94.80 L712.75,88.71 L714.75,82.58 L716.75,76.44 L718.75,70.31 L720.75,64.21 L722.75,58.06 L724.75,51.84 L726.75,45.60 L728.75,39.35 L729.82,36.00" fill="none" stroke="#ff8000" stroke-width="1.9" stroke-dasharray="2.75 2.02"/><path d="M19.65,326.69 L20.75,326.71 L22.75,326.76 L24.75,326.80 L26.75,326.84 L28.75,326.89 L30.75,326.93 L32.75,326.98 L34.75,327.03 L36.75,327.08 L38.75,327.13 L40.75,327.19 L42.75,327.24 L44.75,327.29 L46.75,327.35 L48.75,327.41 L50.75,327.47 L52.75,327.54 L54.75,327.61 L56.75,327.68 L58.75,327.74 L60.75,327.81 L62.75,327.87 L64.75,327.94 L66.75,327.99 L68.75,328.05 L70.75,328.10 L72.75,328.15 L74.75,328.20 L76.75,328.24 L78.75,328.29 L80.75,328.33 L82.75,328.38 L84.75,328.42 L86.75,328.47 L88.75,328.52 L90.75,328.57 L92.75,328.62 L94.75,328.67 L96.75,328.73 L98.75,328.78 L100.75,328.84 L102.75,328.90 L104.75,328.95 L106.75,329.01 L108.75,329.07 L110.75,329.13 L112.75,329.19 L114.75,329.25 L116.75,329.31 L118.75,329.37 L120.75,329.43 L122.75,329.49 L124.75,329.55 L126.75,329.61 L128.75,329.67 L130.75,329.73 L132.75,329.79 L134.75,329.85 L136.75,329.91 L138.75,329.97 L140.75,330.02 L142.75,330.08 L144.75,330.13 L146.75,330.19 L148.75,330.24 L150.75,330.30 L152.75,330.35 L154.75,330.41 L156.75,330.46 L158.75,330.52 L160.75,330.57 L162.75,330.62 L164.75,330.68 L166.75,330.73 L168.75,330.78 L170.75,330.84 L172.75,330.89 L174.75,330.94 L176.75,330.99 L178.75,331.04 L180.75,331.09 L182.75,331.14 L184.75,331.19 L186.75,331.24 L188.75,331.29 L190.75,331.34 L192.75,331.39 L194.75,331.45 L196.75,331.50 L198.75,331.55 L200.75,331.60 L202.75,331.66 L204.75,331.71 L206.75,331.76 L208.75,331.82 L210.75,331.87 L212.75,331.92 L214.75,331.97 L216.75,332.02 L218.75,332.07 L220.75,332.11 L222.75,332.16 L224.75,332.20 L226.75,332.24 L228.75,332.27 L230.75,332.31 L232.75,332.34 L234.75,332.37 L236.75,332.40 L238.75,332.42 L240.75,332.44 L242.75,332.46 L244.75,332.49 L246.75,332.50 L248.75,332.52 L250.75,332.54 L252.75,332.56 L254.75,332.57 L256.75,332.58 L258.75,332.59 L260.75,332.60 L262.75,332.61 L264.75,332.62 L266.75,332.63 L268.75,332.64 L270.75,332.65 L272.75,332.66 L274.75,332.67 L276.75,332.67 L278.75,332.68 L280.75,332.69 L282.75,332.70 L284.75,332.71 L286.75,332.71 L288.75,332.72 L290.75,332.73 L292.75,332.73 L294.75,332.74 L296.75,332.75 L298.75,332.75 L300.75,332.76 L302.75,332.76 L304.75,332.77 L306.75,332.77 L308.75,332.78 L310.75,332.78 L312.75,332.78 L314.75,332.79 L316.75,332.79 L318.75,332.79 L320.75,332.80 L322.75,332.80 L324.75,332.80 L326.75,332.80 L328.75,332.80 L330.75,332.80 L332.75,332.79 L334.75,332.78 L336.75,332.77 L338.75,332.75 L340.75,332.72 L342.75,332.69 L344.75,332.65 L346.75,332.61 L348.75,332.57 L350.75,332.52 L352.75,332.47 L354.75,332.41 L356.75,332.35 L358.75,332.28 L360.75,332.21 L362.75,332.14 L364.75,332.07 L366.75,331.99 L368.75,331.91 L370.75,331.82 L372.75,331.74 L374.75,331.65 L376.75,331.55 L378.75,331.46 L380.75,331.36 L382.75,331.23 L384.75,331.05 L386.75,330.85 L388.75,330.62 L390.75,330.37 L392.75,330.10 L394.75,329.83 L396.75,329.56 L398.75,329.29 L400.75,329.03 L402.75,328.79 L404.75,328.57 L406.75,328.38 L408.75,328.19 L410.75,328.02 L412.75,327.85 L414.75,327.69 L416.75,327.52 L418.75,327.35 L420.75,327.18 L422.75,326.99 L424.75,326.79 L426.75,326.57 L428.75,326.33 L430.75,326.07 L432.75,325.77 L434.75,325.44 L436.75,325.08 L438.75,324.71 L440.75,324.31 L442.75,323.90 L444.75,323.48 L446.75,323.05 L448.75,322.61 L450.75,322.18 L452.75,321.74 L454.75,321.29 L456.75,320.83 L458.75,320.35 L460.75,319.87 L462.75,319.37 L464.75,318.85 L466.75,318.33 L468.75,317.78 L470.75,317.22 L472.75,316.65 L474.75,316.06 L476.75,315.45 L478.75,314.81 L480.75,314.15 L482.75,313.47 L484.75,312.77 L486.75,312.04 L488.75,311.29 L490.75,310.51 L492.75,309.71 L494.75,308.89 L496.75,308.04 L498.75,307.17 L500.75,306.27 L502.75,305.34 L504.75,304.39 L506.75,303.41 L508.75,302.40 L510.75,301.37 L512.75,300.31 L514.75,299.23 L516.75,298.13 L518.75,297.01 L520.75,295.87 L522.75,294.70 L524.75,293.52 L526.75,292.32 L528.75,291.11 L530.75,289.88 L532.75,288.63 L534.75,287.37 L536.75,286.10 L538.75,284.81 L540.75,283.51 L542.75,282.18 L544.75,280.81 L546.75,279.41 L548.75,277.96 L550.75,276.47 L552.75,274.94 L554.75,273.36 L556.75,271.74 L558.75,270.07 L560.75,268.33 L562.75,266.51 L564.75,264.61 L566.75,262.65 L568.75,260.65 L570.75,258.61 L572.75,256.55 L574.75,254.47 L576.75,252.39 L578.75,250.28 L580.75,248.14 L582.75,245.97 L584.75,243.76 L586.75,241.51 L588.75,239.22 L590.75,236.89 L592.75,234.50 L594.75,232.06 L596.75,229.56 L598.75,227.01 L600.75,224.40 L602.75,221.74 L604.75,219.02 L606.75,216.25 L608.75,213.41 L610.75,210.50 L612.75,207.52 L614.75,204.49 L616.75,201.42 L618.75,198.31 L620.75,195.18 L622.75,191.98 L624.75,188.72 L626.75,185.41 L628.75,182.08 L630.75,178.73 L632.75,175.38 L634.75,172.05 L636.75,168.72 L638.75,165.36 L640.75,161.94 L642.75,158.44 L644.75,154.82 L646.75,151.11 L648.75,147.32 L650.75,143.45 L652.75,139.49 L654.75,135.43 L656.75,131.29 L658.75,127.04 L660.75,122.63 L662.75,118.02 L664.75,113.28 L666.75,108.40 L668.75,103.32 L670.75,98.19 L672.75,93.19 L674.75,88.48 L676.75,84.15 L678.75,80.00 L680.75,75.82 L682.75,71.41 L684.75,66.55 L686.75,61.10 L688.75,55.29 L690.75,49.42 L692.75,43.78 L694.75,38.34 L695.60,36.00" fill="none" stroke="#00ff00" stroke-width="1.9" stroke-dasharray="25.6 22.33"/><path d="M19.65,371.68 L20.75,371.73 L22.75,371.82 L24.75,371.91 L26.75,372.00 L28.75,372.09 L30.75,372.18 L32.75,372.27 L34.75,372.35 L36.75,372.44 L38.75,372.53 L40.75,372.62 L42.75,372.70 L44.75,372.79 L46.75,372.88 L48.75,372.96 L50.75,373.04 L52.75,373.13 L54.75,373.21 L56.75,373.30 L58.75,373.38 L60.75,373.46 L62.75,373.54 L64.75,373.63 L66.75,373.71 L68.75,373.79 L70.75,373.87 L72.75,373.95 L74.75,374.03 L76.75,374.11 L78.75,374.19 L80.75,374.27 L82.75,374.35 L84.75,374.43 L86.75,374.51 L88.75,374.59 L90.75,374.67 L92.75,374.75 L94.75,374.83 L96.75,374.91 L98.75,374.99 L100.75,375.08 L102.75,375.16 L104.75,375.24 L106.75,375.32 L108.75,375.40 L110.75,375.48 L112.75,375.57 L114.75,375.65 L116.75,375.73 L118.75,375.82 L120.75,375.90 L122.75,375.99 L124.75,376.07 L126.75,376.16 L128.75,376.25 L130.75,376.34 L132.75,376.42 L134.75,376.51 L136.75,376.60 L138.75,376.69 L140.75,376.78 L142.75,376.88 L144.75,376.97 L146.75,377.07 L148.75,377.17 L150.75,377.27 L152.75,377.37 L154.75,377.48 L156.75,377.58 L158.75,377.69 L160.75,377.80 L162.75,377.91 L164.75,378.02 L166.75,378.13 L168.75,378.24 L170.75,378.35 L172.75,378.47 L174.75,378.58 L176.75,378.70 L178.75,378.81 L180.75,378.93 L182.75,379.05 L184.75,379.16 L186.75,379.28 L188.75,379.40 L190.75,379.51 L192.75,379.63 L194.75,379.75 L196.75,379.86 L198.75,379.98 L200.75,380.10 L202.75,380.21 L204.75,380.33 L206.75,380.44 L208.75,380.55 L210.75,380.66 L212.75,380.77 L214.75,380.89 L216.75,380.99 L218.75,381.10 L220.75,381.21 L222.75,381.31 L224.75,381.42 L226.75,381.52 L228.75,381.62 L230.75,381.72 L232.75,381.81 L234.75,381.91 L236.75,382.00 L238.75,382.09 L240.75,382.18 L242.75,382.27 L244.75,382.35 L246.75,382.43 L248.75,382.51 L250.75,382.59 L252.75,382.66 L254.75,382.73 L256.75,382.80 L258.75,382.86 L260.75,382.92 L262.75,382.98 L264.75,383.04 L266.75,383.10 L268.75,383.16 L270.75,383.22 L272.75,383.27 L274.75,383.33 L276.75,383.39 L278.75,383.44 L280.75,383.49 L282.75,383.55 L284.75,383.60 L286.75,383.65 L288.75,383.70 L290.75,383.75 L292.75,383.80 L294.75,383.84 L296.75,383.89 L298.75,383.93 L300.75,383.98 L302.75,384.02 L304.75,384.06 L306.75,384.10 L308.75,384.14 L310.75,384.18 L312.75,384.22 L314.75,384.26 L316.75,384.29 L318.75,384.33 L320.75,384.36 L322.75,384.39 L324.75,384.42 L326.75,384.45 L328.75,384.48 L330.75,384.51 L332.75,384.54 L334.75,384.57 L336.75,384.59 L338.75,384.62 L340.75,384.65 L342.75,384.68 L344.75,384.70 L346.75,384.73 L348.75,384.76 L350.75,384.78 L352.75,384.81 L354.75,384.83 L356.75,384.85 L358.75,384.88 L360.75,384.90 L362.75,384.92 L364.75,384.93 L366.75,384.95 L368.75,384.96 L370.75,384.97 L372.75,384.98 L374.75,384.99 L376.75,385.00 L378.75,385.00 L380.75,385.00 L382.75,384.97 L384.75,384.91 L386.75,384.82 L388.75,384.71 L390.75,384.58 L392.75,384.44 L394.75,384.29 L396.75,384.14 L398.75,383.99 L400.75,383.84 L402.75,383.71 L404.75,383.59 L406.75,383.48 L408.75,383.37 L410.75,383.27 L412.75,383.17 L414.75,383.07 L416.75,382.97 L418.75,382.86 L420.75,382.75 L422.75,382.63 L424.75,382.50 L426.75,382.35 L428.75,382.20 L430.75,382.02 L432.75,381.81 L434.75,381.58 L436.75,381.33 L438.75,381.06 L440.75,380.77 L442.75,380.47 L444.75,380.15 L446.75,379.83 L448.75,379.50 L450.75,379.16 L452.75,378.81 L454.75,378.45 L456.75,378.08 L458.75,377.68 L460.75,377.27 L462.75,376.84 L464.75,376.40 L466.75,375.93 L468.75,375.46 L470.75,374.96 L472.75,374.45 L474.75,373.93 L476.75,373.38 L478.75,372.80 L480.75,372.19 L482.75,371.55 L484.75,370.88 L486.75,370.18 L488.75,369.47 L490.75,368.73 L492.75,367.98 L494.75,367.21 L496.75,366.43 L498.75,365.65 L500.75,364.85 L502.75,364.03 L504.75,363.19 L506.75,362.33 L508.75,361.45 L510.75,360.54 L512.75,359.60 L514.75,358.63 L516.75,357.62 L518.75,356.57 L520.75,355.48 L522.75,354.32 L524.75,353.08 L526.75,351.77 L528.75,350.42 L530.75,349.02 L532.75,347.60 L534.75,346.16 L536.75,344.72 L538.75,343.29 L540.75,341.87 L542.75,340.47 L544.75,339.05 L546.75,337.63 L548.75,336.19 L550.75,334.72 L552.75,333.22 L554.75,331.66 L556.75,330.06 L558.75,328.39 L560.75,326.63 L562.75,324.76 L564.75,322.81 L566.75,320.78 L568.75,318.72 L570.75,316.63 L572.75,314.53 L574.75,312.46 L576.75,310.43 L578.75,308.40 L580.75,306.28 L582.75,304.01 L584.75,301.63 L586.75,299.18 L588.75,296.66 L590.75,294.10 L592.75,291.51 L594.75,288.88 L596.75,286.21 L598.75,283.49 L600.75,280.73 L602.75,277.91 L604.75,275.05 L606.75,272.14 L608.75,269.16 L610.75,266.13 L612.75,263.04 L614.75,259.91 L616.75,256.74 L618.75,253.52 L620.75,250.25 L622.75,246.92 L624.75,243.54 L626.75,240.10 L628.75,236.64 L630.75,233.14 L632.75,229.62 L634.75,226.07 L636.75,222.46 L638.75,218.76 L640.75,214.93 L642.75,210.95 L644.75,206.85 L646.75,202.67 L648.75,198.44 L650.75,194.23 L652.75,190.06 L654.75,185.99 L656.75,181.95 L658.75,177.87 L660.75,173.69 L662.75,169.32 L664.75,164.65 L666.75,159.67 L668.75,154.56 L670.75,149.52 L672.75,144.72 L674.75,140.13 L676.75,135.61 L678.75,130.99 L680.75,126.12 L682.75,120.94 L684.75,115.55 L686.75,110.05 L688.75,104.57 L690.75,99.19 L692.75,93.89 L694.75,88.58 L696.75,83.19 L698.75,77.66 L700.75,71.94 L702.75,66.11 L704.75,60.26 L706.75,54.45 L708.75,48.69 L710.75,42.91 L712.75,37.04 L713.10,36.00" fill="none" stroke="#00ff00" stroke-width="1.9" stroke-dasharray="25.6 22.33"/></g>
<g><line x1="4.4" y1="486.4" x2="804.4" y2="486.4" stroke="#4a4a4a" stroke-width="1"/><line x1="404.45" y1="36.85000000000002" x2="404.45" y2="532" stroke="#4a4a4a" stroke-width="1"/><line x1="20.75" y1="486.4" x2="20.75" y2="482.09999999999997" stroke="#4a4a4a" stroke-width="0.8"/><line x1="46.33" y1="486.4" x2="46.33" y2="483.79999999999995" stroke="#4a4a4a" stroke-width="0.8"/><line x1="71.91" y1="486.4" x2="71.91" y2="483.79999999999995" stroke="#4a4a4a" stroke-width="0.8"/><line x1="97.49" y1="486.4" x2="97.49" y2="483.79999999999995" stroke="#4a4a4a" stroke-width="0.8"/><line x1="123.07" y1="486.4" x2="123.07" y2="483.79999999999995" stroke="#4a4a4a" stroke-width="0.8"/><line x1="148.65" y1="486.4" x2="148.65" y2="482.09999999999997" stroke="#4a4a4a" stroke-width="0.8"/><line x1="174.23" y1="486.4" x2="174.23" y2="483.79999999999995" stroke="#4a4a4a" stroke-width="0.8"/><line x1="199.81" y1="486.4" x2="199.81" y2="483.79999999999995" stroke="#4a4a4a" stroke-width="0.8"/><line x1="225.39" y1="486.4" x2="225.39" y2="483.79999999999995" stroke="#4a4a4a" stroke-width="0.8"/><line x1="250.97" y1="486.4" x2="250.97" y2="483.79999999999995" stroke="#4a4a4a" stroke-width="0.8"/><line x1="276.55" y1="486.4" x2="276.55" y2="482.09999999999997" stroke="#4a4a4a" stroke-width="0.8"/><line x1="302.13" y1="486.4" x2="302.13" y2="483.79999999999995" stroke="#4a4a4a" stroke-width="0.8"/><line x1="327.71" y1="486.4" x2="327.71" y2="483.79999999999995" stroke="#4a4a4a" stroke-width="0.8"/><line x1="353.29" y1="486.4" x2="353.29" y2="483.79999999999995" stroke="#4a4a4a" stroke-width="0.8"/><line x1="378.87" y1="486.4" x2="378.87" y2="483.79999999999995" stroke="#4a4a4a" stroke-width="0.8"/><line x1="430.03" y1="486.4" x2="430.03" y2="483.79999999999995" stroke="#4a4a4a" stroke-width="0.8"/><line x1="455.61" y1="486.4" x2="455.61" y2="483.79999999999995" stroke="#4a4a4a" stroke-width="0.8"/><line x1="481.19" y1="486.4" x2="481.19" y2="483.79999999999995" stroke="#4a4a4a" stroke-width="0.8"/><line x1="506.77" y1="486.4" x2="506.77" y2="483.79999999999995" stroke="#4a4a4a" stroke-width="0.8"/><line x1="532.35" y1="486.4" x2="532.35" y2="482.09999999999997" stroke="#4a4a4a" stroke-width="0.8"/><line x1="557.93" y1="486.4" x2="557.93" y2="483.79999999999995" stroke="#4a4a4a" stroke-width="0.8"/><line x1="583.51" y1="486.4" x2="583.51" y2="483.79999999999995" stroke="#4a4a4a" stroke-width="0.8"/><line x1="609.09" y1="486.4" x2="609.09" y2="483.79999999999995" stroke="#4a4a4a" stroke-width="0.8"/><line x1="634.67" y1="486.4" x2="634.67" y2="483.79999999999995" stroke="#4a4a4a" stroke-width="0.8"/><line x1="660.25" y1="486.4" x2="660.25" y2="482.09999999999997" stroke="#4a4a4a" stroke-width="0.8"/><line x1="685.83" y1="486.4" x2="685.83" y2="483.79999999999995" stroke="#4a4a4a" stroke-width="0.8"/><line x1="711.41" y1="486.4" x2="711.41" y2="483.79999999999995" stroke="#4a4a4a" stroke-width="0.8"/><line x1="736.99" y1="486.4" x2="736.99" y2="483.79999999999995" stroke="#4a4a4a" stroke-width="0.8"/><line x1="762.57" y1="486.4" x2="762.57" y2="483.79999999999995" stroke="#4a4a4a" stroke-width="0.8"/><line x1="788.15" y1="486.4" x2="788.15" y2="482.09999999999997" stroke="#4a4a4a" stroke-width="0.8"/><line x1="404.45" y1="531.36" x2="407.05" y2="531.36" stroke="#4a4a4a" stroke-width="0.8"/><line x1="404.45" y1="516.37" x2="407.05" y2="516.37" stroke="#4a4a4a" stroke-width="0.8"/><line x1="404.45" y1="501.38" x2="407.05" y2="501.38" stroke="#4a4a4a" stroke-width="0.8"/><line x1="404.45" y1="471.41" x2="407.05" y2="471.41" stroke="#4a4a4a" stroke-width="0.8"/><line x1="404.45" y1="456.43" x2="407.05" y2="456.43" stroke="#4a4a4a" stroke-width="0.8"/><line x1="404.45" y1="441.44" x2="407.05" y2="441.44" stroke="#4a4a4a" stroke-width="0.8"/><line x1="404.45" y1="426.46" x2="407.05" y2="426.46" stroke="#4a4a4a" stroke-width="0.8"/><line x1="404.45" y1="411.47" x2="408.75" y2="411.47" stroke="#4a4a4a" stroke-width="0.8"/><line x1="404.45" y1="396.49" x2="407.05" y2="396.49" stroke="#4a4a4a" stroke-width="0.8"/><line x1="404.45" y1="381.50" x2="407.05" y2="381.50" stroke="#4a4a4a" stroke-width="0.8"/><line x1="404.45" y1="366.52" x2="407.05" y2="366.52" stroke="#4a4a4a" stroke-width="0.8"/><line x1="404.45" y1="351.53" x2="407.05" y2="351.53" stroke="#4a4a4a" stroke-width="0.8"/><line x1="404.45" y1="336.55" x2="408.75" y2="336.55" stroke="#4a4a4a" stroke-width="0.8"/><line x1="404.45" y1="321.56" x2="407.05" y2="321.56" stroke="#4a4a4a" stroke-width="0.8"/><line x1="404.45" y1="306.58" x2="407.05" y2="306.58" stroke="#4a4a4a" stroke-width="0.8"/><line x1="404.45" y1="291.59" x2="407.05" y2="291.59" stroke="#4a4a4a" stroke-width="0.8"/><line x1="404.45" y1="276.61" x2="407.05" y2="276.61" stroke="#4a4a4a" stroke-width="0.8"/><line x1="404.45" y1="261.62" x2="408.75" y2="261.62" stroke="#4a4a4a" stroke-width="0.8"/><line x1="404.45" y1="246.64" x2="407.05" y2="246.64" stroke="#4a4a4a" stroke-width="0.8"/><line x1="404.45" y1="231.65" x2="407.05" y2="231.65" stroke="#4a4a4a" stroke-width="0.8"/><line x1="404.45" y1="216.67" x2="407.05" y2="216.67" stroke="#4a4a4a" stroke-width="0.8"/><line x1="404.45" y1="201.69" x2="407.05" y2="201.69" stroke="#4a4a4a" stroke-width="0.8"/><line x1="404.45" y1="186.70" x2="408.75" y2="186.70" stroke="#4a4a4a" stroke-width="0.8"/><line x1="404.45" y1="171.71" x2="407.05" y2="171.71" stroke="#4a4a4a" stroke-width="0.8"/><line x1="404.45" y1="156.73" x2="407.05" y2="156.73" stroke="#4a4a4a" stroke-width="0.8"/><line x1="404.45" y1="141.75" x2="407.05" y2="141.75" stroke="#4a4a4a" stroke-width="0.8"/><line x1="404.45" y1="126.76" x2="407.05" y2="126.76" stroke="#4a4a4a" stroke-width="0.8"/><line x1="404.45" y1="111.77" x2="408.75" y2="111.77" stroke="#4a4a4a" stroke-width="0.8"/><line x1="404.45" y1="96.79" x2="407.05" y2="96.79" stroke="#4a4a4a" stroke-width="0.8"/><line x1="404.45" y1="81.81" x2="407.05" y2="81.81" stroke="#4a4a4a" stroke-width="0.8"/><line x1="404.45" y1="66.82" x2="407.05" y2="66.82" stroke="#4a4a4a" stroke-width="0.8"/><line x1="404.45" y1="51.83" x2="407.05" y2="51.83" stroke="#4a4a4a" stroke-width="0.8"/><line x1="404.45" y1="36.85" x2="408.75" y2="36.85" stroke="#4a4a4a" stroke-width="0.8"/></g>
<g style="will-change:transform"><text transform="translate(20.7,508.1) scale(0.97,1.06)" text-anchor="middle" font-family="Liberation Sans, sans-serif" font-size="20" fill="#000" stroke="#000" stroke-width="0.35"><tspan dx="-1.6">−</tspan><tspan dx="1.6">1.5</tspan></text><text transform="translate(148.6,508.1) scale(0.97,1.06)" text-anchor="middle" font-family="Liberation Sans, sans-serif" font-size="20" fill="#000" stroke="#000" stroke-width="0.35">−1.0</text><text transform="translate(276.5,508.1) scale(0.97,1.06)" text-anchor="middle" font-family="Liberation Sans, sans-serif" font-size="20" fill="#000" stroke="#000" stroke-width="0.35">−0.5</text><text transform="translate(532.4,508.1) scale(0.97,1.06)" text-anchor="middle" font-family="Liberation Sans, sans-serif" font-size="20" fill="#000" stroke="#000" stroke-width="0.35">0.5</text><text transform="translate(660.2,508.1) scale(0.97,1.06)" text-anchor="middle" font-family="Liberation Sans, sans-serif" font-size="20" fill="#000" stroke="#000" stroke-width="0.35">1.0</text><text transform="translate(788.2,508.1) scale(0.97,1.06)" text-anchor="middle" font-family="Liberation Sans, sans-serif" font-size="20" fill="#000" stroke="#000" stroke-width="0.35">1.5</text><text transform="translate(401.6,419.2) scale(0.97,1.06)" text-anchor="end" font-family="Liberation Sans, sans-serif" font-size="20" fill="#000" stroke="#000" stroke-width="0.35">5</text><text transform="translate(401.6,344.2) scale(0.97,1.06)" text-anchor="end" font-family="Liberation Sans, sans-serif" font-size="20" fill="#000" stroke="#000" stroke-width="0.35">10</text><text transform="translate(401.6,269.3) scale(0.97,1.06)" text-anchor="end" font-family="Liberation Sans, sans-serif" font-size="20" fill="#000" stroke="#000" stroke-width="0.35">15</text><text transform="translate(401.6,194.4) scale(0.97,1.06)" text-anchor="end" font-family="Liberation Sans, sans-serif" font-size="20" fill="#000" stroke="#000" stroke-width="0.35">20</text><text transform="translate(401.6,119.5) scale(0.97,1.06)" text-anchor="end" font-family="Liberation Sans, sans-serif" font-size="20" fill="#000" stroke="#000" stroke-width="0.35">25</text><text transform="translate(401.6,44.6) scale(0.97,1.06)" text-anchor="end" font-family="Liberation Sans, sans-serif" font-size="20" fill="#000" stroke="#000" stroke-width="0.35">30</text></g>
<g style="will-change:transform"><line x1="58" y1="83.2" x2="93.5" y2="83.2" stroke="#000" stroke-width="1.9"/><text x="99.5" y="89.9" font-family="Liberation Sans, sans-serif" font-size="24" fill="#000" stroke="#000" stroke-width="0.35">ground state</text><line x1="56.5" y1="115" x2="91.9" y2="115" stroke="#0000ff" stroke-width="1.9" stroke-dasharray="2.9 1.95 5.6 1.95" /><text x="101" y="118.7" font-family="Liberation Sans, sans-serif" font-size="24" fill="#000" stroke="#000" stroke-width="0.35"><tspan font-style="italic">κ</tspan> = 0 tower</text><line x1="52.2" y1="145.2" x2="89.2" y2="145.2" stroke="#ff8000" stroke-width="1.8" stroke-dasharray="3.0 1.83"/><text x="95" y="148.3" font-family="Liberation Sans, sans-serif" font-size="24" fill="#000" stroke="#000" stroke-width="0.35">Goldstone states</text><line x1="57.4" y1="173.1" x2="89.2" y2="173.1" stroke="#00ff00" stroke-width="1.9" stroke-dasharray="11.8 8.1"/><text x="100" y="176.2" font-family="Liberation Sans, sans-serif" font-size="24" fill="#000" stroke="#000" stroke-width="0.35">singlets</text></g>
<g style="will-change:transform"><text transform="translate(389.6,14.3) scale(1.15,1.0)" font-family="Liberation Serif, serif" font-weight="bold" font-style="italic" font-size="21" fill="#000">LE</text><text transform="translate(814.6,491.9) scale(1.16,1.0)" font-family="Liberation Serif, serif" font-weight="bold" font-style="italic" font-size="20.5" fill="#000">L</text><text transform="translate(828.0,486.4) scale(1.36,1.0)" font-family="Liberation Serif, serif" font-weight="bold" font-size="14.5" fill="#000">1/<tspan font-style="italic">ν</tspan></text><text transform="translate(853.6,492.4) scale(1.1,1.0)" font-family="Liberation Serif, serif" font-weight="bold" font-size="22" fill="#000">(</text><text transform="translate(863.0,491.9) scale(1.27,1.0)" font-family="Liberation Serif, serif" font-weight="bold" font-style="italic" font-size="20" fill="#000">s</text><line x1="879.2" y1="488.5" x2="893" y2="488.5" stroke="#000" stroke-width="1.5"/><text transform="translate(901.4,491.9) scale(1.27,1.0)" font-family="Liberation Serif, serif" font-weight="bold" font-style="italic" font-size="20" fill="#000">s</text><text transform="translate(911.8,495.6) scale(1.12,1.0)" font-family="Liberation Serif, serif" font-weight="bold" font-style="italic" font-size="13.5" fill="#000">c</text><text transform="translate(918.6,492.4) scale(1.0,1.0)" font-family="Liberation Serif, serif" font-weight="bold" font-size="22" fill="#000">)</text></g>
</svg>
</body></html>
